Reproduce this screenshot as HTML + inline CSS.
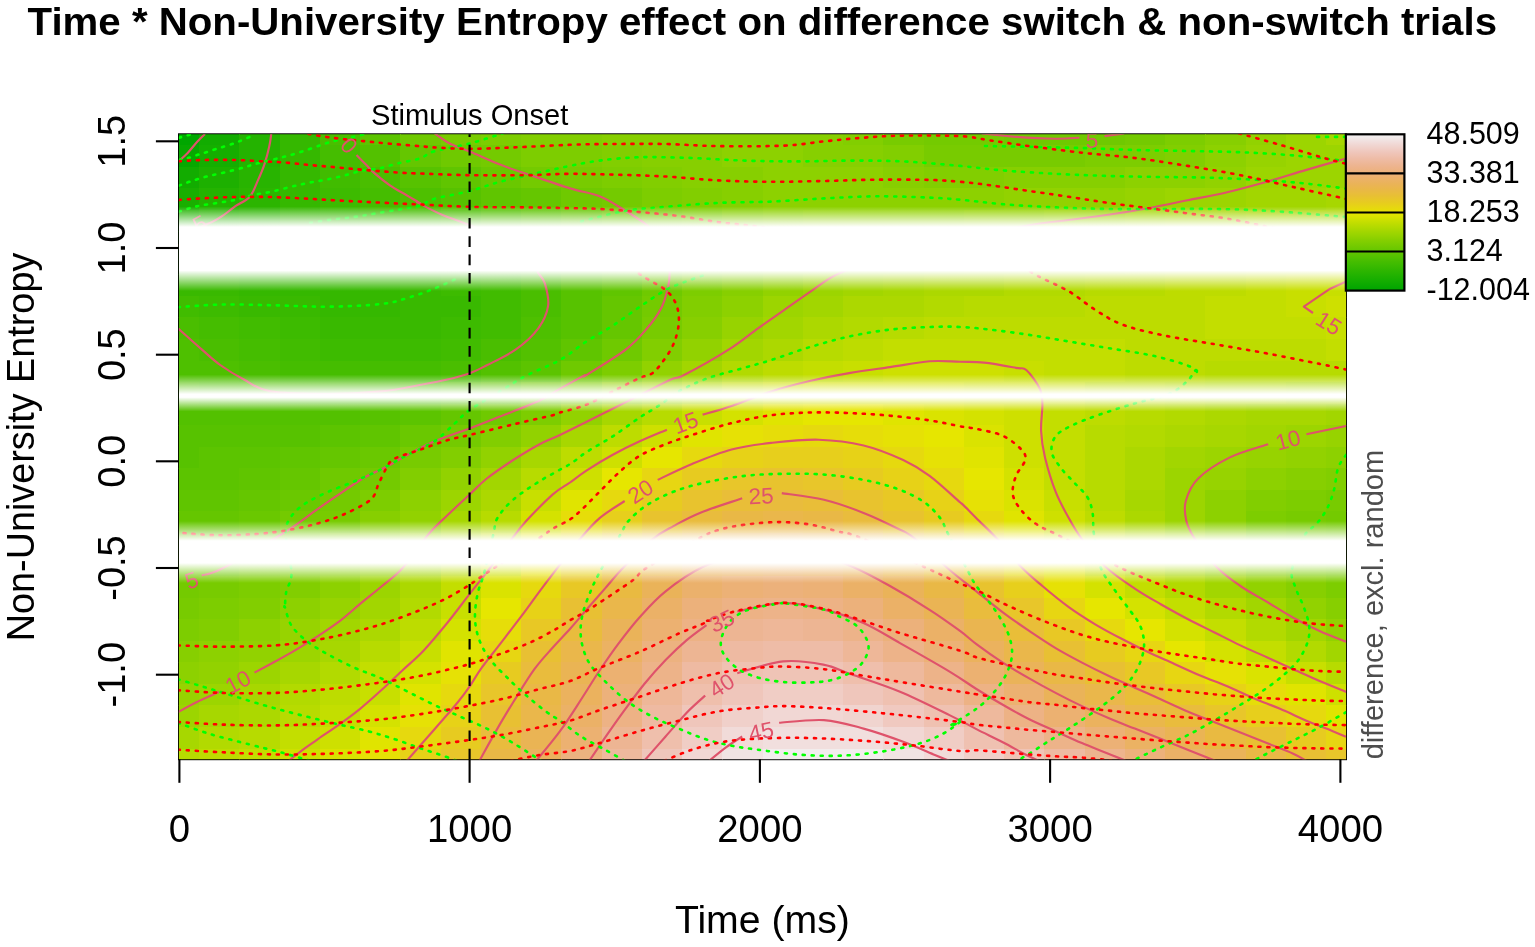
<!DOCTYPE html>
<html lang="en"><head><meta charset="utf-8"><title>Time * Non-University Entropy effect</title>
<style>html,body{margin:0;padding:0;background:#fff}body{width:1535px;height:947px;overflow:hidden}svg{display:block}text{font-family:"Liberation Sans",Arial,Helvetica,sans-serif;fill:#000}</style></head><body>
<svg width="1535" height="947" viewBox="0 0 1535 947">
<defs>
<clipPath id="pc"><rect x="178.9" y="134.2" width="1167.1999999999998" height="625.0999999999999"/></clipPath>
<linearGradient id="b1" x1="0" y1="0" x2="0" y2="1"><stop offset="0.0000" stop-color="#fff" stop-opacity="0.000"/><stop offset="0.0404" stop-color="#fff" stop-opacity="0.167"/><stop offset="0.0809" stop-color="#fff" stop-opacity="0.333"/><stop offset="0.1213" stop-color="#fff" stop-opacity="0.500"/><stop offset="0.1617" stop-color="#fff" stop-opacity="0.667"/><stop offset="0.2022" stop-color="#fff" stop-opacity="0.833"/><stop offset="0.2426" stop-color="#fff" stop-opacity="1.000"/><stop offset="0.7574" stop-color="#fff" stop-opacity="1.000"/><stop offset="0.7978" stop-color="#fff" stop-opacity="0.833"/><stop offset="0.8383" stop-color="#fff" stop-opacity="0.667"/><stop offset="0.8787" stop-color="#fff" stop-opacity="0.500"/><stop offset="0.9191" stop-color="#fff" stop-opacity="0.333"/><stop offset="0.9596" stop-color="#fff" stop-opacity="0.167"/><stop offset="1.0000" stop-color="#fff" stop-opacity="0.000"/></linearGradient>
<linearGradient id="b2" x1="0" y1="0" x2="0" y2="1"><stop offset="0.0000" stop-color="#fff" stop-opacity="0.000"/><stop offset="0.0887" stop-color="#fff" stop-opacity="0.167"/><stop offset="0.1775" stop-color="#fff" stop-opacity="0.333"/><stop offset="0.2662" stop-color="#fff" stop-opacity="0.500"/><stop offset="0.3550" stop-color="#fff" stop-opacity="0.667"/><stop offset="0.4437" stop-color="#fff" stop-opacity="0.833"/><stop offset="0.5324" stop-color="#fff" stop-opacity="1.000"/><stop offset="0.6162" stop-color="#fff" stop-opacity="1.000"/><stop offset="0.6802" stop-color="#fff" stop-opacity="0.833"/><stop offset="0.7441" stop-color="#fff" stop-opacity="0.667"/><stop offset="0.8081" stop-color="#fff" stop-opacity="0.500"/><stop offset="0.8721" stop-color="#fff" stop-opacity="0.333"/><stop offset="0.9360" stop-color="#fff" stop-opacity="0.167"/><stop offset="1.0000" stop-color="#fff" stop-opacity="0.000"/></linearGradient>
<linearGradient id="b3" x1="0" y1="0" x2="0" y2="1"><stop offset="0.0000" stop-color="#fff" stop-opacity="0.000"/><stop offset="0.0532" stop-color="#fff" stop-opacity="0.167"/><stop offset="0.1065" stop-color="#fff" stop-opacity="0.333"/><stop offset="0.1597" stop-color="#fff" stop-opacity="0.500"/><stop offset="0.2129" stop-color="#fff" stop-opacity="0.667"/><stop offset="0.2661" stop-color="#fff" stop-opacity="0.833"/><stop offset="0.3194" stop-color="#fff" stop-opacity="1.000"/><stop offset="0.6774" stop-color="#fff" stop-opacity="1.000"/><stop offset="0.7312" stop-color="#fff" stop-opacity="0.833"/><stop offset="0.7849" stop-color="#fff" stop-opacity="0.667"/><stop offset="0.8387" stop-color="#fff" stop-opacity="0.500"/><stop offset="0.8925" stop-color="#fff" stop-opacity="0.333"/><stop offset="0.9462" stop-color="#fff" stop-opacity="0.167"/><stop offset="1.0000" stop-color="#fff" stop-opacity="0.000"/></linearGradient>
<linearGradient id="lg" x1="0" y1="1" x2="0" y2="0"><stop offset="0.005" stop-color="#00a600"/><stop offset="0.025" stop-color="#07a800"/><stop offset="0.045" stop-color="#0eab00"/><stop offset="0.065" stop-color="#15ae00"/><stop offset="0.085" stop-color="#1db000"/><stop offset="0.105" stop-color="#24b300"/><stop offset="0.125" stop-color="#2cb500"/><stop offset="0.145" stop-color="#35b800"/><stop offset="0.165" stop-color="#3dbb00"/><stop offset="0.185" stop-color="#45bd00"/><stop offset="0.205" stop-color="#4ec000"/><stop offset="0.225" stop-color="#57c200"/><stop offset="0.245" stop-color="#60c500"/><stop offset="0.265" stop-color="#6ac800"/><stop offset="0.285" stop-color="#74ca00"/><stop offset="0.305" stop-color="#7dcd00"/><stop offset="0.325" stop-color="#87cf00"/><stop offset="0.345" stop-color="#92d200"/><stop offset="0.365" stop-color="#9cd500"/><stop offset="0.385" stop-color="#a7d700"/><stop offset="0.405" stop-color="#b2da00"/><stop offset="0.425" stop-color="#bddc00"/><stop offset="0.445" stop-color="#c8df00"/><stop offset="0.465" stop-color="#d4e200"/><stop offset="0.485" stop-color="#e0e400"/><stop offset="0.505" stop-color="#e6e105"/><stop offset="0.525" stop-color="#e6d90e"/><stop offset="0.545" stop-color="#e7d217"/><stop offset="0.565" stop-color="#e7cb20"/><stop offset="0.585" stop-color="#e8c62a"/><stop offset="0.605" stop-color="#e8c033"/><stop offset="0.625" stop-color="#e9bc3d"/><stop offset="0.645" stop-color="#e9b846"/><stop offset="0.665" stop-color="#eab550"/><stop offset="0.685" stop-color="#eab359"/><stop offset="0.705" stop-color="#ebb263"/><stop offset="0.725" stop-color="#ebb16c"/><stop offset="0.745" stop-color="#ecb176"/><stop offset="0.765" stop-color="#ecb280"/><stop offset="0.785" stop-color="#edb389"/><stop offset="0.805" stop-color="#edb593"/><stop offset="0.825" stop-color="#eeb99d"/><stop offset="0.845" stop-color="#eebca7"/><stop offset="0.865" stop-color="#efc1b1"/><stop offset="0.885" stop-color="#efc6bb"/><stop offset="0.905" stop-color="#f0cdc5"/><stop offset="0.925" stop-color="#f0d4cf"/><stop offset="0.945" stop-color="#f1dbd9"/><stop offset="0.965" stop-color="#f1e4e3"/><stop offset="0.985" stop-color="#f2eded"/></linearGradient>
</defs>
<rect x="178.9" y="134.2" width="1167.1999999999998" height="625.0999999999999" fill="none" stroke="#000" stroke-width="1.8"/>
<g clip-path="url(#pc)" shape-rendering="crispEdges">
<rect x="177.9" y="133.2" width="21.4" height="12.1" fill="#00a600"/>
<rect x="199" y="133.2" width="40.5" height="12.1" fill="#12ac00"/>
<rect x="239.3" y="133.2" width="40.5" height="12.1" fill="#24b300"/>
<rect x="279.5" y="133.2" width="40.5" height="12.1" fill="#35b800"/>
<rect x="319.8" y="133.2" width="40.5" height="12.1" fill="#4abe00"/>
<rect x="360" y="133.2" width="40.5" height="12.1" fill="#5cc400"/>
<rect x="400.3" y="133.2" width="40.5" height="12.1" fill="#6fc900"/>
<rect x="440.5" y="133.2" width="40.5" height="12.1" fill="#78cb00"/>
<rect x="480.8" y="133.2" width="40.5" height="12.1" fill="#7dcd00"/>
<rect x="521" y="133.2" width="80.8" height="12.1" fill="#82ce00"/>
<rect x="601.5" y="133.2" width="241.8" height="12.1" fill="#87cf00"/>
<rect x="843" y="133.2" width="40.5" height="12.1" fill="#82ce00"/>
<rect x="883.2" y="133.2" width="40.5" height="12.1" fill="#78cb00"/>
<rect x="923.5" y="133.2" width="80.8" height="12.1" fill="#74ca00"/>
<rect x="1004" y="133.2" width="121" height="12.1" fill="#6fc900"/>
<rect x="1124.7" y="133.2" width="40.5" height="12.1" fill="#74ca00"/>
<rect x="1165" y="133.2" width="40.5" height="12.1" fill="#7dcd00"/>
<rect x="1205.2" y="133.2" width="40.5" height="12.1" fill="#87cf00"/>
<rect x="1245.5" y="133.2" width="40.5" height="12.1" fill="#92d200"/>
<rect x="1285.7" y="133.2" width="40.5" height="12.1" fill="#9cd500"/>
<rect x="1326" y="133.2" width="21.4" height="12.1" fill="#a7d700"/>
<rect x="177.9" y="145" width="21.4" height="21.9" fill="#07a800"/>
<rect x="199" y="145" width="40.5" height="21.9" fill="#15ae00"/>
<rect x="239.3" y="145" width="40.5" height="21.9" fill="#24b300"/>
<rect x="279.5" y="145" width="40.5" height="21.9" fill="#35b800"/>
<rect x="319.8" y="145" width="40.5" height="21.9" fill="#45bd00"/>
<rect x="360" y="145" width="40.5" height="21.9" fill="#53c100"/>
<rect x="400.3" y="145" width="40.5" height="21.9" fill="#65c600"/>
<rect x="440.5" y="145" width="40.5" height="21.9" fill="#6fc900"/>
<rect x="480.8" y="145" width="40.5" height="21.9" fill="#74ca00"/>
<rect x="521" y="145" width="80.8" height="21.9" fill="#7dcd00"/>
<rect x="601.5" y="145" width="40.5" height="21.9" fill="#82ce00"/>
<rect x="641.8" y="145" width="80.8" height="21.9" fill="#87cf00"/>
<rect x="722.3" y="145" width="80.8" height="21.9" fill="#8dd100"/>
<rect x="802.7" y="145" width="80.8" height="21.9" fill="#87cf00"/>
<rect x="883.2" y="145" width="40.5" height="21.9" fill="#82ce00"/>
<rect x="923.5" y="145" width="161.3" height="21.9" fill="#78cb00"/>
<rect x="1084.5" y="145" width="80.8" height="21.9" fill="#7dcd00"/>
<rect x="1165" y="145" width="40.5" height="21.9" fill="#82ce00"/>
<rect x="1205.2" y="145" width="40.5" height="21.9" fill="#8dd100"/>
<rect x="1245.5" y="145" width="40.5" height="21.9" fill="#97d300"/>
<rect x="1285.7" y="145" width="61.7" height="21.9" fill="#9cd500"/>
<rect x="177.9" y="166.5" width="21.4" height="21.9" fill="#12ac00"/>
<rect x="199" y="166.5" width="40.5" height="21.9" fill="#1db000"/>
<rect x="239.3" y="166.5" width="40.5" height="21.9" fill="#28b400"/>
<rect x="279.5" y="166.5" width="40.5" height="21.9" fill="#35b800"/>
<rect x="319.8" y="166.5" width="40.5" height="21.9" fill="#41bc00"/>
<rect x="360" y="166.5" width="40.5" height="21.9" fill="#4abe00"/>
<rect x="400.3" y="166.5" width="40.5" height="21.9" fill="#57c200"/>
<rect x="440.5" y="166.5" width="40.5" height="21.9" fill="#60c500"/>
<rect x="480.8" y="166.5" width="40.5" height="21.9" fill="#6ac800"/>
<rect x="521" y="166.5" width="40.5" height="21.9" fill="#74ca00"/>
<rect x="561.3" y="166.5" width="40.5" height="21.9" fill="#78cb00"/>
<rect x="601.5" y="166.5" width="40.5" height="21.9" fill="#7dcd00"/>
<rect x="641.8" y="166.5" width="40.5" height="21.9" fill="#82ce00"/>
<rect x="682" y="166.5" width="80.8" height="21.9" fill="#87cf00"/>
<rect x="762.5" y="166.5" width="121" height="21.9" fill="#8dd100"/>
<rect x="883.2" y="166.5" width="40.5" height="21.9" fill="#87cf00"/>
<rect x="923.5" y="166.5" width="80.8" height="21.9" fill="#82ce00"/>
<rect x="1004" y="166.5" width="121" height="21.9" fill="#87cf00"/>
<rect x="1124.7" y="166.5" width="80.8" height="21.9" fill="#8dd100"/>
<rect x="1205.2" y="166.5" width="40.5" height="21.9" fill="#92d200"/>
<rect x="1245.5" y="166.5" width="101.9" height="21.9" fill="#9cd500"/>
<rect x="177.9" y="188.1" width="21.4" height="21.9" fill="#19af00"/>
<rect x="199" y="188.1" width="40.5" height="21.9" fill="#24b300"/>
<rect x="239.3" y="188.1" width="40.5" height="21.9" fill="#2cb500"/>
<rect x="279.5" y="188.1" width="40.5" height="21.9" fill="#35b800"/>
<rect x="319.8" y="188.1" width="40.5" height="21.9" fill="#3dbb00"/>
<rect x="360" y="188.1" width="40.5" height="21.9" fill="#45bd00"/>
<rect x="400.3" y="188.1" width="40.5" height="21.9" fill="#4ec000"/>
<rect x="440.5" y="188.1" width="40.5" height="21.9" fill="#57c200"/>
<rect x="480.8" y="188.1" width="40.5" height="21.9" fill="#60c500"/>
<rect x="521" y="188.1" width="40.5" height="21.9" fill="#65c600"/>
<rect x="561.3" y="188.1" width="40.5" height="21.9" fill="#6fc900"/>
<rect x="601.5" y="188.1" width="40.5" height="21.9" fill="#74ca00"/>
<rect x="641.8" y="188.1" width="40.5" height="21.9" fill="#7dcd00"/>
<rect x="682" y="188.1" width="40.5" height="21.9" fill="#82ce00"/>
<rect x="722.3" y="188.1" width="40.5" height="21.9" fill="#87cf00"/>
<rect x="762.5" y="188.1" width="241.8" height="21.9" fill="#8dd100"/>
<rect x="1004" y="188.1" width="121" height="21.9" fill="#92d200"/>
<rect x="1124.7" y="188.1" width="40.5" height="21.9" fill="#97d300"/>
<rect x="1165" y="188.1" width="80.8" height="21.9" fill="#9cd500"/>
<rect x="1245.5" y="188.1" width="80.8" height="21.9" fill="#a2d600"/>
<rect x="1326" y="188.1" width="21.4" height="21.9" fill="#a7d700"/>
<rect x="177.9" y="209.6" width="21.4" height="21.9" fill="#21b100"/>
<rect x="199" y="209.6" width="40.5" height="21.9" fill="#28b400"/>
<rect x="239.3" y="209.6" width="40.5" height="21.9" fill="#2cb500"/>
<rect x="279.5" y="209.6" width="40.5" height="21.9" fill="#35b800"/>
<rect x="319.8" y="209.6" width="40.5" height="21.9" fill="#39b900"/>
<rect x="360" y="209.6" width="40.5" height="21.9" fill="#3dbb00"/>
<rect x="400.3" y="209.6" width="40.5" height="21.9" fill="#45bd00"/>
<rect x="440.5" y="209.6" width="40.5" height="21.9" fill="#4abe00"/>
<rect x="480.8" y="209.6" width="40.5" height="21.9" fill="#53c100"/>
<rect x="521" y="209.6" width="40.5" height="21.9" fill="#5cc400"/>
<rect x="561.3" y="209.6" width="40.5" height="21.9" fill="#65c600"/>
<rect x="601.5" y="209.6" width="40.5" height="21.9" fill="#6fc900"/>
<rect x="641.8" y="209.6" width="40.5" height="21.9" fill="#78cb00"/>
<rect x="682" y="209.6" width="40.5" height="21.9" fill="#7dcd00"/>
<rect x="722.3" y="209.6" width="40.5" height="21.9" fill="#87cf00"/>
<rect x="762.5" y="209.6" width="40.5" height="21.9" fill="#8dd100"/>
<rect x="802.7" y="209.6" width="161.3" height="21.9" fill="#92d200"/>
<rect x="963.7" y="209.6" width="80.8" height="21.9" fill="#97d300"/>
<rect x="1044.2" y="209.6" width="80.8" height="21.9" fill="#9cd500"/>
<rect x="1124.7" y="209.6" width="40.5" height="21.9" fill="#a2d600"/>
<rect x="1165" y="209.6" width="80.8" height="21.9" fill="#a7d700"/>
<rect x="1245.5" y="209.6" width="101.9" height="21.9" fill="#acd800"/>
<rect x="177.9" y="231.2" width="21.4" height="21.9" fill="#28b400"/>
<rect x="199" y="231.2" width="40.5" height="21.9" fill="#2cb500"/>
<rect x="239.3" y="231.2" width="40.5" height="21.9" fill="#30b700"/>
<rect x="279.5" y="231.2" width="80.8" height="21.9" fill="#35b800"/>
<rect x="360" y="231.2" width="40.5" height="21.9" fill="#39b900"/>
<rect x="400.3" y="231.2" width="40.5" height="21.9" fill="#3dbb00"/>
<rect x="440.5" y="231.2" width="40.5" height="21.9" fill="#45bd00"/>
<rect x="480.8" y="231.2" width="40.5" height="21.9" fill="#4abe00"/>
<rect x="521" y="231.2" width="40.5" height="21.9" fill="#53c100"/>
<rect x="561.3" y="231.2" width="40.5" height="21.9" fill="#5cc400"/>
<rect x="601.5" y="231.2" width="40.5" height="21.9" fill="#65c600"/>
<rect x="641.8" y="231.2" width="40.5" height="21.9" fill="#74ca00"/>
<rect x="682" y="231.2" width="40.5" height="21.9" fill="#7dcd00"/>
<rect x="722.3" y="231.2" width="40.5" height="21.9" fill="#87cf00"/>
<rect x="762.5" y="231.2" width="40.5" height="21.9" fill="#8dd100"/>
<rect x="802.7" y="231.2" width="40.5" height="21.9" fill="#92d200"/>
<rect x="843" y="231.2" width="80.8" height="21.9" fill="#97d300"/>
<rect x="923.5" y="231.2" width="80.8" height="21.9" fill="#9cd500"/>
<rect x="1004" y="231.2" width="80.8" height="21.9" fill="#a2d600"/>
<rect x="1084.5" y="231.2" width="40.5" height="21.9" fill="#a7d700"/>
<rect x="1124.7" y="231.2" width="80.8" height="21.9" fill="#acd800"/>
<rect x="1205.2" y="231.2" width="80.8" height="21.9" fill="#b2da00"/>
<rect x="1285.7" y="231.2" width="61.7" height="21.9" fill="#b7db00"/>
<rect x="177.9" y="252.8" width="101.9" height="21.9" fill="#30b700"/>
<rect x="279.5" y="252.8" width="80.8" height="21.9" fill="#35b800"/>
<rect x="360" y="252.8" width="80.8" height="21.9" fill="#39b900"/>
<rect x="440.5" y="252.8" width="40.5" height="21.9" fill="#3dbb00"/>
<rect x="480.8" y="252.8" width="40.5" height="21.9" fill="#45bd00"/>
<rect x="521" y="252.8" width="40.5" height="21.9" fill="#4ec000"/>
<rect x="561.3" y="252.8" width="40.5" height="21.9" fill="#57c200"/>
<rect x="601.5" y="252.8" width="40.5" height="21.9" fill="#65c600"/>
<rect x="641.8" y="252.8" width="40.5" height="21.9" fill="#6fc900"/>
<rect x="682" y="252.8" width="40.5" height="21.9" fill="#7dcd00"/>
<rect x="722.3" y="252.8" width="40.5" height="21.9" fill="#87cf00"/>
<rect x="762.5" y="252.8" width="40.5" height="21.9" fill="#92d200"/>
<rect x="802.7" y="252.8" width="40.5" height="21.9" fill="#97d300"/>
<rect x="843" y="252.8" width="80.8" height="21.9" fill="#9cd500"/>
<rect x="923.5" y="252.8" width="40.5" height="21.9" fill="#a2d600"/>
<rect x="963.7" y="252.8" width="80.8" height="21.9" fill="#a7d700"/>
<rect x="1044.2" y="252.8" width="80.8" height="21.9" fill="#acd800"/>
<rect x="1124.7" y="252.8" width="40.5" height="21.9" fill="#b2da00"/>
<rect x="1165" y="252.8" width="80.8" height="21.9" fill="#b7db00"/>
<rect x="1245.5" y="252.8" width="80.8" height="21.9" fill="#bddc00"/>
<rect x="1326" y="252.8" width="21.4" height="21.9" fill="#c3de00"/>
<rect x="177.9" y="274.3" width="61.7" height="21.9" fill="#39b900"/>
<rect x="239.3" y="274.3" width="161.3" height="21.9" fill="#35b800"/>
<rect x="400.3" y="274.3" width="40.5" height="21.9" fill="#39b900"/>
<rect x="440.5" y="274.3" width="40.5" height="21.9" fill="#3dbb00"/>
<rect x="480.8" y="274.3" width="40.5" height="21.9" fill="#41bc00"/>
<rect x="521" y="274.3" width="40.5" height="21.9" fill="#4abe00"/>
<rect x="561.3" y="274.3" width="40.5" height="21.9" fill="#57c200"/>
<rect x="601.5" y="274.3" width="40.5" height="21.9" fill="#60c500"/>
<rect x="641.8" y="274.3" width="40.5" height="21.9" fill="#6fc900"/>
<rect x="682" y="274.3" width="40.5" height="21.9" fill="#7dcd00"/>
<rect x="722.3" y="274.3" width="40.5" height="21.9" fill="#87cf00"/>
<rect x="762.5" y="274.3" width="40.5" height="21.9" fill="#92d200"/>
<rect x="802.7" y="274.3" width="40.5" height="21.9" fill="#9cd500"/>
<rect x="843" y="274.3" width="40.5" height="21.9" fill="#a2d600"/>
<rect x="883.2" y="274.3" width="40.5" height="21.9" fill="#a7d700"/>
<rect x="923.5" y="274.3" width="80.8" height="21.9" fill="#acd800"/>
<rect x="1004" y="274.3" width="80.8" height="21.9" fill="#b2da00"/>
<rect x="1084.5" y="274.3" width="80.8" height="21.9" fill="#b7db00"/>
<rect x="1165" y="274.3" width="80.8" height="21.9" fill="#bddc00"/>
<rect x="1245.5" y="274.3" width="40.5" height="21.9" fill="#c3de00"/>
<rect x="1285.7" y="274.3" width="61.7" height="21.9" fill="#c8df00"/>
<rect x="177.9" y="295.9" width="21.4" height="21.9" fill="#41bc00"/>
<rect x="199" y="295.9" width="40.5" height="21.9" fill="#3dbb00"/>
<rect x="239.3" y="295.9" width="80.8" height="21.9" fill="#39b900"/>
<rect x="319.8" y="295.9" width="80.8" height="21.9" fill="#35b800"/>
<rect x="400.3" y="295.9" width="80.8" height="21.9" fill="#39b900"/>
<rect x="480.8" y="295.9" width="40.5" height="21.9" fill="#41bc00"/>
<rect x="521" y="295.9" width="40.5" height="21.9" fill="#4abe00"/>
<rect x="561.3" y="295.9" width="40.5" height="21.9" fill="#57c200"/>
<rect x="601.5" y="295.9" width="40.5" height="21.9" fill="#65c600"/>
<rect x="641.8" y="295.9" width="40.5" height="21.9" fill="#74ca00"/>
<rect x="682" y="295.9" width="40.5" height="21.9" fill="#82ce00"/>
<rect x="722.3" y="295.9" width="40.5" height="21.9" fill="#8dd100"/>
<rect x="762.5" y="295.9" width="40.5" height="21.9" fill="#9cd500"/>
<rect x="802.7" y="295.9" width="40.5" height="21.9" fill="#a2d600"/>
<rect x="843" y="295.9" width="80.8" height="21.9" fill="#acd800"/>
<rect x="923.5" y="295.9" width="40.5" height="21.9" fill="#b2da00"/>
<rect x="963.7" y="295.9" width="121" height="21.9" fill="#b7db00"/>
<rect x="1084.5" y="295.9" width="121" height="21.9" fill="#bddc00"/>
<rect x="1205.2" y="295.9" width="80.8" height="21.9" fill="#c3de00"/>
<rect x="1285.7" y="295.9" width="40.5" height="21.9" fill="#c8df00"/>
<rect x="1326" y="295.9" width="21.4" height="21.9" fill="#cee000"/>
<rect x="177.9" y="317.4" width="21.4" height="21.9" fill="#4abe00"/>
<rect x="199" y="317.4" width="40.5" height="21.9" fill="#45bd00"/>
<rect x="239.3" y="317.4" width="40.5" height="21.9" fill="#41bc00"/>
<rect x="279.5" y="317.4" width="40.5" height="21.9" fill="#3dbb00"/>
<rect x="319.8" y="317.4" width="121" height="21.9" fill="#39b900"/>
<rect x="440.5" y="317.4" width="40.5" height="21.9" fill="#3dbb00"/>
<rect x="480.8" y="317.4" width="40.5" height="21.9" fill="#41bc00"/>
<rect x="521" y="317.4" width="40.5" height="21.9" fill="#4ec000"/>
<rect x="561.3" y="317.4" width="40.5" height="21.9" fill="#57c200"/>
<rect x="601.5" y="317.4" width="40.5" height="21.9" fill="#65c600"/>
<rect x="641.8" y="317.4" width="40.5" height="21.9" fill="#78cb00"/>
<rect x="682" y="317.4" width="40.5" height="21.9" fill="#87cf00"/>
<rect x="722.3" y="317.4" width="40.5" height="21.9" fill="#97d300"/>
<rect x="762.5" y="317.4" width="40.5" height="21.9" fill="#a2d600"/>
<rect x="802.7" y="317.4" width="40.5" height="21.9" fill="#acd800"/>
<rect x="843" y="317.4" width="40.5" height="21.9" fill="#b2da00"/>
<rect x="883.2" y="317.4" width="40.5" height="21.9" fill="#b7db00"/>
<rect x="923.5" y="317.4" width="282" height="21.9" fill="#bddc00"/>
<rect x="1205.2" y="317.4" width="121" height="21.9" fill="#c3de00"/>
<rect x="1326" y="317.4" width="21.4" height="21.9" fill="#c8df00"/>
<rect x="177.9" y="339" width="21.4" height="21.9" fill="#4ec000"/>
<rect x="199" y="339" width="40.5" height="21.9" fill="#4abe00"/>
<rect x="239.3" y="339" width="40.5" height="21.9" fill="#45bd00"/>
<rect x="279.5" y="339" width="40.5" height="21.9" fill="#41bc00"/>
<rect x="319.8" y="339" width="121" height="21.9" fill="#3dbb00"/>
<rect x="440.5" y="339" width="40.5" height="21.9" fill="#41bc00"/>
<rect x="480.8" y="339" width="40.5" height="21.9" fill="#4abe00"/>
<rect x="521" y="339" width="40.5" height="21.9" fill="#53c100"/>
<rect x="561.3" y="339" width="40.5" height="21.9" fill="#60c500"/>
<rect x="601.5" y="339" width="40.5" height="21.9" fill="#6fc900"/>
<rect x="641.8" y="339" width="40.5" height="21.9" fill="#82ce00"/>
<rect x="682" y="339" width="40.5" height="21.9" fill="#92d200"/>
<rect x="722.3" y="339" width="40.5" height="21.9" fill="#a2d600"/>
<rect x="762.5" y="339" width="40.5" height="21.9" fill="#acd800"/>
<rect x="802.7" y="339" width="40.5" height="21.9" fill="#b7db00"/>
<rect x="843" y="339" width="40.5" height="21.9" fill="#bddc00"/>
<rect x="883.2" y="339" width="241.8" height="21.9" fill="#c3de00"/>
<rect x="1124.7" y="339" width="201.5" height="21.9" fill="#bddc00"/>
<rect x="1326" y="339" width="21.4" height="21.9" fill="#c3de00"/>
<rect x="177.9" y="360.5" width="61.7" height="21.9" fill="#4ec000"/>
<rect x="239.3" y="360.5" width="40.5" height="21.9" fill="#4abe00"/>
<rect x="279.5" y="360.5" width="161.3" height="21.9" fill="#45bd00"/>
<rect x="440.5" y="360.5" width="40.5" height="21.9" fill="#4abe00"/>
<rect x="480.8" y="360.5" width="40.5" height="21.9" fill="#53c100"/>
<rect x="521" y="360.5" width="40.5" height="21.9" fill="#5cc400"/>
<rect x="561.3" y="360.5" width="40.5" height="21.9" fill="#6fc900"/>
<rect x="601.5" y="360.5" width="40.5" height="21.9" fill="#7dcd00"/>
<rect x="641.8" y="360.5" width="40.5" height="21.9" fill="#92d200"/>
<rect x="682" y="360.5" width="40.5" height="21.9" fill="#a2d600"/>
<rect x="722.3" y="360.5" width="40.5" height="21.9" fill="#b2da00"/>
<rect x="762.5" y="360.5" width="40.5" height="21.9" fill="#bddc00"/>
<rect x="802.7" y="360.5" width="40.5" height="21.9" fill="#c3de00"/>
<rect x="843" y="360.5" width="40.5" height="21.9" fill="#c8df00"/>
<rect x="883.2" y="360.5" width="121" height="21.9" fill="#cee000"/>
<rect x="1004" y="360.5" width="40.5" height="21.9" fill="#c8df00"/>
<rect x="1044.2" y="360.5" width="80.8" height="21.9" fill="#c3de00"/>
<rect x="1124.7" y="360.5" width="80.8" height="21.9" fill="#bddc00"/>
<rect x="1205.2" y="360.5" width="142.2" height="21.9" fill="#b7db00"/>
<rect x="177.9" y="382.1" width="21.4" height="21.9" fill="#53c100"/>
<rect x="199" y="382.1" width="80.8" height="21.9" fill="#4ec000"/>
<rect x="279.5" y="382.1" width="121" height="21.9" fill="#4abe00"/>
<rect x="400.3" y="382.1" width="40.5" height="21.9" fill="#4ec000"/>
<rect x="440.5" y="382.1" width="40.5" height="21.9" fill="#57c200"/>
<rect x="480.8" y="382.1" width="40.5" height="21.9" fill="#60c500"/>
<rect x="521" y="382.1" width="40.5" height="21.9" fill="#6fc900"/>
<rect x="561.3" y="382.1" width="40.5" height="21.9" fill="#7dcd00"/>
<rect x="601.5" y="382.1" width="40.5" height="21.9" fill="#92d200"/>
<rect x="641.8" y="382.1" width="40.5" height="21.9" fill="#a2d600"/>
<rect x="682" y="382.1" width="40.5" height="21.9" fill="#b2da00"/>
<rect x="722.3" y="382.1" width="40.5" height="21.9" fill="#c3de00"/>
<rect x="762.5" y="382.1" width="40.5" height="21.9" fill="#cee000"/>
<rect x="802.7" y="382.1" width="161.3" height="21.9" fill="#d4e200"/>
<rect x="963.7" y="382.1" width="80.8" height="21.9" fill="#cee000"/>
<rect x="1044.2" y="382.1" width="40.5" height="21.9" fill="#c8df00"/>
<rect x="1084.5" y="382.1" width="80.8" height="21.9" fill="#bddc00"/>
<rect x="1165" y="382.1" width="40.5" height="21.9" fill="#b7db00"/>
<rect x="1205.2" y="382.1" width="80.8" height="21.9" fill="#b2da00"/>
<rect x="1285.7" y="382.1" width="61.7" height="21.9" fill="#acd800"/>
<rect x="177.9" y="403.6" width="182.4" height="21.9" fill="#53c100"/>
<rect x="360" y="403.6" width="40.5" height="21.9" fill="#57c200"/>
<rect x="400.3" y="403.6" width="40.5" height="21.9" fill="#5cc400"/>
<rect x="440.5" y="403.6" width="40.5" height="21.9" fill="#65c600"/>
<rect x="480.8" y="403.6" width="40.5" height="21.9" fill="#6fc900"/>
<rect x="521" y="403.6" width="40.5" height="21.9" fill="#7dcd00"/>
<rect x="561.3" y="403.6" width="40.5" height="21.9" fill="#92d200"/>
<rect x="601.5" y="403.6" width="40.5" height="21.9" fill="#a7d700"/>
<rect x="641.8" y="403.6" width="40.5" height="21.9" fill="#b7db00"/>
<rect x="682" y="403.6" width="40.5" height="21.9" fill="#c8df00"/>
<rect x="722.3" y="403.6" width="40.5" height="21.9" fill="#d4e200"/>
<rect x="762.5" y="403.6" width="40.5" height="21.9" fill="#e0e400"/>
<rect x="802.7" y="403.6" width="80.8" height="21.9" fill="#e6e600"/>
<rect x="883.2" y="403.6" width="40.5" height="21.9" fill="#e0e400"/>
<rect x="923.5" y="403.6" width="40.5" height="21.9" fill="#dae300"/>
<rect x="963.7" y="403.6" width="40.5" height="21.9" fill="#d4e200"/>
<rect x="1004" y="403.6" width="40.5" height="21.9" fill="#cee000"/>
<rect x="1044.2" y="403.6" width="40.5" height="21.9" fill="#c3de00"/>
<rect x="1084.5" y="403.6" width="40.5" height="21.9" fill="#bddc00"/>
<rect x="1124.7" y="403.6" width="40.5" height="21.9" fill="#b7db00"/>
<rect x="1165" y="403.6" width="40.5" height="21.9" fill="#b2da00"/>
<rect x="1205.2" y="403.6" width="40.5" height="21.9" fill="#acd800"/>
<rect x="1245.5" y="403.6" width="80.8" height="21.9" fill="#a7d700"/>
<rect x="1326" y="403.6" width="21.4" height="21.9" fill="#a2d600"/>
<rect x="177.9" y="425.2" width="142.2" height="21.9" fill="#57c200"/>
<rect x="319.8" y="425.2" width="40.5" height="21.9" fill="#5cc400"/>
<rect x="360" y="425.2" width="40.5" height="21.9" fill="#60c500"/>
<rect x="400.3" y="425.2" width="40.5" height="21.9" fill="#6ac800"/>
<rect x="440.5" y="425.2" width="40.5" height="21.9" fill="#74ca00"/>
<rect x="480.8" y="425.2" width="40.5" height="21.9" fill="#82ce00"/>
<rect x="521" y="425.2" width="40.5" height="21.9" fill="#92d200"/>
<rect x="561.3" y="425.2" width="40.5" height="21.9" fill="#a7d700"/>
<rect x="601.5" y="425.2" width="40.5" height="21.9" fill="#bddc00"/>
<rect x="641.8" y="425.2" width="40.5" height="21.9" fill="#cee000"/>
<rect x="682" y="425.2" width="40.5" height="21.9" fill="#e0e400"/>
<rect x="722.3" y="425.2" width="40.5" height="21.9" fill="#e6e105"/>
<rect x="762.5" y="425.2" width="40.5" height="21.9" fill="#e6dd09"/>
<rect x="802.7" y="425.2" width="40.5" height="21.9" fill="#e6d90e"/>
<rect x="843" y="425.2" width="40.5" height="21.9" fill="#e6dd09"/>
<rect x="883.2" y="425.2" width="40.5" height="21.9" fill="#e6e105"/>
<rect x="923.5" y="425.2" width="40.5" height="21.9" fill="#e6e600"/>
<rect x="963.7" y="425.2" width="40.5" height="21.9" fill="#dae300"/>
<rect x="1004" y="425.2" width="40.5" height="21.9" fill="#cee000"/>
<rect x="1044.2" y="425.2" width="40.5" height="21.9" fill="#c3de00"/>
<rect x="1084.5" y="425.2" width="40.5" height="21.9" fill="#b7db00"/>
<rect x="1124.7" y="425.2" width="40.5" height="21.9" fill="#b2da00"/>
<rect x="1165" y="425.2" width="40.5" height="21.9" fill="#acd800"/>
<rect x="1205.2" y="425.2" width="40.5" height="21.9" fill="#a7d700"/>
<rect x="1245.5" y="425.2" width="40.5" height="21.9" fill="#a2d600"/>
<rect x="1285.7" y="425.2" width="40.5" height="21.9" fill="#9cd500"/>
<rect x="1326" y="425.2" width="21.4" height="21.9" fill="#97d300"/>
<rect x="177.9" y="446.7" width="21.4" height="21.9" fill="#57c200"/>
<rect x="199" y="446.7" width="80.8" height="21.9" fill="#5cc400"/>
<rect x="279.5" y="446.7" width="40.5" height="21.9" fill="#60c500"/>
<rect x="319.8" y="446.7" width="40.5" height="21.9" fill="#65c600"/>
<rect x="360" y="446.7" width="40.5" height="21.9" fill="#6ac800"/>
<rect x="400.3" y="446.7" width="40.5" height="21.9" fill="#78cb00"/>
<rect x="440.5" y="446.7" width="40.5" height="21.9" fill="#82ce00"/>
<rect x="480.8" y="446.7" width="40.5" height="21.9" fill="#92d200"/>
<rect x="521" y="446.7" width="40.5" height="21.9" fill="#a7d700"/>
<rect x="561.3" y="446.7" width="40.5" height="21.9" fill="#bddc00"/>
<rect x="601.5" y="446.7" width="40.5" height="21.9" fill="#cee000"/>
<rect x="641.8" y="446.7" width="40.5" height="21.9" fill="#e6e600"/>
<rect x="682" y="446.7" width="40.5" height="21.9" fill="#e6d90e"/>
<rect x="722.3" y="446.7" width="40.5" height="21.9" fill="#e7d217"/>
<rect x="762.5" y="446.7" width="80.8" height="21.9" fill="#e7cf1c"/>
<rect x="843" y="446.7" width="40.5" height="21.9" fill="#e7d217"/>
<rect x="883.2" y="446.7" width="40.5" height="21.9" fill="#e6d90e"/>
<rect x="923.5" y="446.7" width="40.5" height="21.9" fill="#e6e105"/>
<rect x="963.7" y="446.7" width="40.5" height="21.9" fill="#e0e400"/>
<rect x="1004" y="446.7" width="40.5" height="21.9" fill="#cee000"/>
<rect x="1044.2" y="446.7" width="40.5" height="21.9" fill="#c3de00"/>
<rect x="1084.5" y="446.7" width="40.5" height="21.9" fill="#b7db00"/>
<rect x="1124.7" y="446.7" width="40.5" height="21.9" fill="#acd800"/>
<rect x="1165" y="446.7" width="40.5" height="21.9" fill="#a2d600"/>
<rect x="1205.2" y="446.7" width="40.5" height="21.9" fill="#9cd500"/>
<rect x="1245.5" y="446.7" width="40.5" height="21.9" fill="#97d300"/>
<rect x="1285.7" y="446.7" width="40.5" height="21.9" fill="#92d200"/>
<rect x="1326" y="446.7" width="21.4" height="21.9" fill="#8dd100"/>
<rect x="177.9" y="468.3" width="61.7" height="21.9" fill="#5cc400"/>
<rect x="239.3" y="468.3" width="40.5" height="21.9" fill="#60c500"/>
<rect x="279.5" y="468.3" width="40.5" height="21.9" fill="#65c600"/>
<rect x="319.8" y="468.3" width="40.5" height="21.9" fill="#6fc900"/>
<rect x="360" y="468.3" width="40.5" height="21.9" fill="#74ca00"/>
<rect x="400.3" y="468.3" width="40.5" height="21.9" fill="#82ce00"/>
<rect x="440.5" y="468.3" width="40.5" height="21.9" fill="#92d200"/>
<rect x="480.8" y="468.3" width="40.5" height="21.9" fill="#a2d600"/>
<rect x="521" y="468.3" width="40.5" height="21.9" fill="#b7db00"/>
<rect x="561.3" y="468.3" width="40.5" height="21.9" fill="#cee000"/>
<rect x="601.5" y="468.3" width="40.5" height="21.9" fill="#e6e600"/>
<rect x="641.8" y="468.3" width="40.5" height="21.9" fill="#e7d612"/>
<rect x="682" y="468.3" width="40.5" height="21.9" fill="#e7cb20"/>
<rect x="722.3" y="468.3" width="40.5" height="21.9" fill="#e8c62a"/>
<rect x="762.5" y="468.3" width="40.5" height="21.9" fill="#e8c32e"/>
<rect x="802.7" y="468.3" width="40.5" height="21.9" fill="#e8c62a"/>
<rect x="843" y="468.3" width="40.5" height="21.9" fill="#e7cb20"/>
<rect x="883.2" y="468.3" width="40.5" height="21.9" fill="#e7d217"/>
<rect x="923.5" y="468.3" width="40.5" height="21.9" fill="#e6d90e"/>
<rect x="963.7" y="468.3" width="40.5" height="21.9" fill="#e6e600"/>
<rect x="1004" y="468.3" width="40.5" height="21.9" fill="#d4e200"/>
<rect x="1044.2" y="468.3" width="40.5" height="21.9" fill="#c3de00"/>
<rect x="1084.5" y="468.3" width="40.5" height="21.9" fill="#b7db00"/>
<rect x="1124.7" y="468.3" width="40.5" height="21.9" fill="#acd800"/>
<rect x="1165" y="468.3" width="40.5" height="21.9" fill="#9cd500"/>
<rect x="1205.2" y="468.3" width="40.5" height="21.9" fill="#97d300"/>
<rect x="1245.5" y="468.3" width="40.5" height="21.9" fill="#8dd100"/>
<rect x="1285.7" y="468.3" width="40.5" height="21.9" fill="#87cf00"/>
<rect x="1326" y="468.3" width="21.4" height="21.9" fill="#82ce00"/>
<rect x="177.9" y="489.9" width="61.7" height="21.9" fill="#60c500"/>
<rect x="239.3" y="489.9" width="40.5" height="21.9" fill="#65c600"/>
<rect x="279.5" y="489.9" width="40.5" height="21.9" fill="#6ac800"/>
<rect x="319.8" y="489.9" width="40.5" height="21.9" fill="#74ca00"/>
<rect x="360" y="489.9" width="40.5" height="21.9" fill="#7dcd00"/>
<rect x="400.3" y="489.9" width="40.5" height="21.9" fill="#8dd100"/>
<rect x="440.5" y="489.9" width="40.5" height="21.9" fill="#9cd500"/>
<rect x="480.8" y="489.9" width="40.5" height="21.9" fill="#acd800"/>
<rect x="521" y="489.9" width="40.5" height="21.9" fill="#c8df00"/>
<rect x="561.3" y="489.9" width="40.5" height="21.9" fill="#e0e400"/>
<rect x="601.5" y="489.9" width="40.5" height="21.9" fill="#e6d90e"/>
<rect x="641.8" y="489.9" width="40.5" height="21.9" fill="#e7cb20"/>
<rect x="682" y="489.9" width="40.5" height="21.9" fill="#e8c32e"/>
<rect x="722.3" y="489.9" width="40.5" height="21.9" fill="#e9be38"/>
<rect x="762.5" y="489.9" width="40.5" height="21.9" fill="#e9bc3d"/>
<rect x="802.7" y="489.9" width="40.5" height="21.9" fill="#e9be38"/>
<rect x="843" y="489.9" width="40.5" height="21.9" fill="#e8c32e"/>
<rect x="883.2" y="489.9" width="40.5" height="21.9" fill="#e8c825"/>
<rect x="923.5" y="489.9" width="40.5" height="21.9" fill="#e7d217"/>
<rect x="963.7" y="489.9" width="40.5" height="21.9" fill="#e6e105"/>
<rect x="1004" y="489.9" width="40.5" height="21.9" fill="#dae300"/>
<rect x="1044.2" y="489.9" width="40.5" height="21.9" fill="#c8df00"/>
<rect x="1084.5" y="489.9" width="40.5" height="21.9" fill="#b7db00"/>
<rect x="1124.7" y="489.9" width="40.5" height="21.9" fill="#a7d700"/>
<rect x="1165" y="489.9" width="40.5" height="21.9" fill="#9cd500"/>
<rect x="1205.2" y="489.9" width="40.5" height="21.9" fill="#8dd100"/>
<rect x="1245.5" y="489.9" width="40.5" height="21.9" fill="#82ce00"/>
<rect x="1285.7" y="489.9" width="40.5" height="21.9" fill="#7dcd00"/>
<rect x="1326" y="489.9" width="21.4" height="21.9" fill="#78cb00"/>
<rect x="177.9" y="511.4" width="61.7" height="21.9" fill="#65c600"/>
<rect x="239.3" y="511.4" width="40.5" height="21.9" fill="#6ac800"/>
<rect x="279.5" y="511.4" width="40.5" height="21.9" fill="#74ca00"/>
<rect x="319.8" y="511.4" width="40.5" height="21.9" fill="#78cb00"/>
<rect x="360" y="511.4" width="40.5" height="21.9" fill="#87cf00"/>
<rect x="400.3" y="511.4" width="40.5" height="21.9" fill="#92d200"/>
<rect x="440.5" y="511.4" width="40.5" height="21.9" fill="#a7d700"/>
<rect x="480.8" y="511.4" width="40.5" height="21.9" fill="#b7db00"/>
<rect x="521" y="511.4" width="40.5" height="21.9" fill="#d4e200"/>
<rect x="561.3" y="511.4" width="40.5" height="21.9" fill="#e6dd09"/>
<rect x="601.5" y="511.4" width="40.5" height="21.9" fill="#e7cf1c"/>
<rect x="641.8" y="511.4" width="40.5" height="21.9" fill="#e8c32e"/>
<rect x="682" y="511.4" width="40.5" height="21.9" fill="#e9bc3d"/>
<rect x="722.3" y="511.4" width="40.5" height="21.9" fill="#e9b846"/>
<rect x="762.5" y="511.4" width="40.5" height="21.9" fill="#eab74b"/>
<rect x="802.7" y="511.4" width="40.5" height="21.9" fill="#e9b846"/>
<rect x="843" y="511.4" width="40.5" height="21.9" fill="#e9bc3d"/>
<rect x="883.2" y="511.4" width="40.5" height="21.9" fill="#e8c32e"/>
<rect x="923.5" y="511.4" width="40.5" height="21.9" fill="#e7cb20"/>
<rect x="963.7" y="511.4" width="40.5" height="21.9" fill="#e6d90e"/>
<rect x="1004" y="511.4" width="40.5" height="21.9" fill="#e0e400"/>
<rect x="1044.2" y="511.4" width="40.5" height="21.9" fill="#cee000"/>
<rect x="1084.5" y="511.4" width="40.5" height="21.9" fill="#bddc00"/>
<rect x="1124.7" y="511.4" width="40.5" height="21.9" fill="#acd800"/>
<rect x="1165" y="511.4" width="40.5" height="21.9" fill="#9cd500"/>
<rect x="1205.2" y="511.4" width="40.5" height="21.9" fill="#8dd100"/>
<rect x="1245.5" y="511.4" width="40.5" height="21.9" fill="#7dcd00"/>
<rect x="1285.7" y="511.4" width="40.5" height="21.9" fill="#78cb00"/>
<rect x="1326" y="511.4" width="21.4" height="21.9" fill="#74ca00"/>
<rect x="177.9" y="533" width="21.4" height="21.9" fill="#65c600"/>
<rect x="199" y="533" width="40.5" height="21.9" fill="#6ac800"/>
<rect x="239.3" y="533" width="40.5" height="21.9" fill="#6fc900"/>
<rect x="279.5" y="533" width="40.5" height="21.9" fill="#78cb00"/>
<rect x="319.8" y="533" width="40.5" height="21.9" fill="#82ce00"/>
<rect x="360" y="533" width="40.5" height="21.9" fill="#8dd100"/>
<rect x="400.3" y="533" width="40.5" height="21.9" fill="#9cd500"/>
<rect x="440.5" y="533" width="40.5" height="21.9" fill="#acd800"/>
<rect x="480.8" y="533" width="40.5" height="21.9" fill="#c3de00"/>
<rect x="521" y="533" width="40.5" height="21.9" fill="#e0e400"/>
<rect x="561.3" y="533" width="40.5" height="21.9" fill="#e7d612"/>
<rect x="601.5" y="533" width="40.5" height="21.9" fill="#e8c62a"/>
<rect x="641.8" y="533" width="40.5" height="21.9" fill="#e9bc3d"/>
<rect x="682" y="533" width="40.5" height="21.9" fill="#eab74b"/>
<rect x="722.3" y="533" width="40.5" height="21.9" fill="#eab454"/>
<rect x="762.5" y="533" width="40.5" height="21.9" fill="#eab359"/>
<rect x="802.7" y="533" width="40.5" height="21.9" fill="#eab454"/>
<rect x="843" y="533" width="40.5" height="21.9" fill="#eab74b"/>
<rect x="883.2" y="533" width="40.5" height="21.9" fill="#e9bc3d"/>
<rect x="923.5" y="533" width="40.5" height="21.9" fill="#e8c62a"/>
<rect x="963.7" y="533" width="40.5" height="21.9" fill="#e7d217"/>
<rect x="1004" y="533" width="40.5" height="21.9" fill="#e6e105"/>
<rect x="1044.2" y="533" width="40.5" height="21.9" fill="#d4e200"/>
<rect x="1084.5" y="533" width="40.5" height="21.9" fill="#c3de00"/>
<rect x="1124.7" y="533" width="40.5" height="21.9" fill="#b2da00"/>
<rect x="1165" y="533" width="40.5" height="21.9" fill="#a2d600"/>
<rect x="1205.2" y="533" width="40.5" height="21.9" fill="#92d200"/>
<rect x="1245.5" y="533" width="40.5" height="21.9" fill="#7dcd00"/>
<rect x="1285.7" y="533" width="40.5" height="21.9" fill="#78cb00"/>
<rect x="1326" y="533" width="21.4" height="21.9" fill="#74ca00"/>
<rect x="177.9" y="554.5" width="61.7" height="21.9" fill="#6fc900"/>
<rect x="239.3" y="554.5" width="40.5" height="21.9" fill="#78cb00"/>
<rect x="279.5" y="554.5" width="40.5" height="21.9" fill="#7dcd00"/>
<rect x="319.8" y="554.5" width="40.5" height="21.9" fill="#87cf00"/>
<rect x="360" y="554.5" width="40.5" height="21.9" fill="#92d200"/>
<rect x="400.3" y="554.5" width="40.5" height="21.9" fill="#a2d600"/>
<rect x="440.5" y="554.5" width="40.5" height="21.9" fill="#b7db00"/>
<rect x="480.8" y="554.5" width="40.5" height="21.9" fill="#cee000"/>
<rect x="521" y="554.5" width="40.5" height="21.9" fill="#e6e105"/>
<rect x="561.3" y="554.5" width="40.5" height="21.9" fill="#e7cf1c"/>
<rect x="601.5" y="554.5" width="40.5" height="21.9" fill="#e8c033"/>
<rect x="641.8" y="554.5" width="40.5" height="21.9" fill="#eab74b"/>
<rect x="682" y="554.5" width="40.5" height="21.9" fill="#ebb25e"/>
<rect x="722.3" y="554.5" width="40.5" height="21.9" fill="#ebb263"/>
<rect x="762.5" y="554.5" width="40.5" height="21.9" fill="#ebb167"/>
<rect x="802.7" y="554.5" width="40.5" height="21.9" fill="#ebb263"/>
<rect x="843" y="554.5" width="40.5" height="21.9" fill="#eab359"/>
<rect x="883.2" y="554.5" width="40.5" height="21.9" fill="#eab74b"/>
<rect x="923.5" y="554.5" width="40.5" height="21.9" fill="#e9be38"/>
<rect x="963.7" y="554.5" width="40.5" height="21.9" fill="#e7cb20"/>
<rect x="1004" y="554.5" width="40.5" height="21.9" fill="#e6d90e"/>
<rect x="1044.2" y="554.5" width="40.5" height="21.9" fill="#e0e400"/>
<rect x="1084.5" y="554.5" width="40.5" height="21.9" fill="#c8df00"/>
<rect x="1124.7" y="554.5" width="40.5" height="21.9" fill="#b7db00"/>
<rect x="1165" y="554.5" width="40.5" height="21.9" fill="#a7d700"/>
<rect x="1205.2" y="554.5" width="40.5" height="21.9" fill="#97d300"/>
<rect x="1245.5" y="554.5" width="40.5" height="21.9" fill="#87cf00"/>
<rect x="1285.7" y="554.5" width="40.5" height="21.9" fill="#7dcd00"/>
<rect x="1326" y="554.5" width="21.4" height="21.9" fill="#78cb00"/>
<rect x="177.9" y="576.1" width="21.4" height="21.9" fill="#74ca00"/>
<rect x="199" y="576.1" width="40.5" height="21.9" fill="#78cb00"/>
<rect x="239.3" y="576.1" width="40.5" height="21.9" fill="#7dcd00"/>
<rect x="279.5" y="576.1" width="40.5" height="21.9" fill="#82ce00"/>
<rect x="319.8" y="576.1" width="40.5" height="21.9" fill="#8dd100"/>
<rect x="360" y="576.1" width="40.5" height="21.9" fill="#9cd500"/>
<rect x="400.3" y="576.1" width="40.5" height="21.9" fill="#acd800"/>
<rect x="440.5" y="576.1" width="40.5" height="21.9" fill="#c3de00"/>
<rect x="480.8" y="576.1" width="40.5" height="21.9" fill="#dae300"/>
<rect x="521" y="576.1" width="40.5" height="21.9" fill="#e6d90e"/>
<rect x="561.3" y="576.1" width="40.5" height="21.9" fill="#e8c825"/>
<rect x="601.5" y="576.1" width="40.5" height="21.9" fill="#e9ba41"/>
<rect x="641.8" y="576.1" width="40.5" height="21.9" fill="#eab359"/>
<rect x="682" y="576.1" width="40.5" height="21.9" fill="#ebb16c"/>
<rect x="722.3" y="576.1" width="40.5" height="21.9" fill="#ecb176"/>
<rect x="762.5" y="576.1" width="40.5" height="21.9" fill="#ecb17b"/>
<rect x="802.7" y="576.1" width="40.5" height="21.9" fill="#ecb176"/>
<rect x="843" y="576.1" width="40.5" height="21.9" fill="#ebb167"/>
<rect x="883.2" y="576.1" width="40.5" height="21.9" fill="#eab359"/>
<rect x="923.5" y="576.1" width="40.5" height="21.9" fill="#e9b846"/>
<rect x="963.7" y="576.1" width="40.5" height="21.9" fill="#e8c32e"/>
<rect x="1004" y="576.1" width="40.5" height="21.9" fill="#e7cf1c"/>
<rect x="1044.2" y="576.1" width="40.5" height="21.9" fill="#e6e105"/>
<rect x="1084.5" y="576.1" width="40.5" height="21.9" fill="#d4e200"/>
<rect x="1124.7" y="576.1" width="40.5" height="21.9" fill="#c3de00"/>
<rect x="1165" y="576.1" width="40.5" height="21.9" fill="#b2da00"/>
<rect x="1205.2" y="576.1" width="40.5" height="21.9" fill="#a2d600"/>
<rect x="1245.5" y="576.1" width="40.5" height="21.9" fill="#92d200"/>
<rect x="1285.7" y="576.1" width="40.5" height="21.9" fill="#87cf00"/>
<rect x="1326" y="576.1" width="21.4" height="21.9" fill="#7dcd00"/>
<rect x="177.9" y="597.6" width="21.4" height="21.9" fill="#78cb00"/>
<rect x="199" y="597.6" width="40.5" height="21.9" fill="#7dcd00"/>
<rect x="239.3" y="597.6" width="40.5" height="21.9" fill="#82ce00"/>
<rect x="279.5" y="597.6" width="40.5" height="21.9" fill="#8dd100"/>
<rect x="319.8" y="597.6" width="40.5" height="21.9" fill="#97d300"/>
<rect x="360" y="597.6" width="40.5" height="21.9" fill="#a2d600"/>
<rect x="400.3" y="597.6" width="40.5" height="21.9" fill="#b2da00"/>
<rect x="440.5" y="597.6" width="40.5" height="21.9" fill="#c8df00"/>
<rect x="480.8" y="597.6" width="40.5" height="21.9" fill="#e6e600"/>
<rect x="521" y="597.6" width="40.5" height="21.9" fill="#e7d217"/>
<rect x="561.3" y="597.6" width="40.5" height="21.9" fill="#e8c033"/>
<rect x="601.5" y="597.6" width="40.5" height="21.9" fill="#eab74b"/>
<rect x="641.8" y="597.6" width="40.5" height="21.9" fill="#ebb167"/>
<rect x="682" y="597.6" width="40.5" height="21.9" fill="#ecb17b"/>
<rect x="722.3" y="597.6" width="40.5" height="21.9" fill="#edb285"/>
<rect x="762.5" y="597.6" width="40.5" height="21.9" fill="#edb389"/>
<rect x="802.7" y="597.6" width="40.5" height="21.9" fill="#edb285"/>
<rect x="843" y="597.6" width="40.5" height="21.9" fill="#ecb17b"/>
<rect x="883.2" y="597.6" width="40.5" height="21.9" fill="#ebb167"/>
<rect x="923.5" y="597.6" width="40.5" height="21.9" fill="#eab454"/>
<rect x="963.7" y="597.6" width="40.5" height="21.9" fill="#e9bc3d"/>
<rect x="1004" y="597.6" width="40.5" height="21.9" fill="#e8c62a"/>
<rect x="1044.2" y="597.6" width="40.5" height="21.9" fill="#e7d612"/>
<rect x="1084.5" y="597.6" width="40.5" height="21.9" fill="#e6e600"/>
<rect x="1124.7" y="597.6" width="40.5" height="21.9" fill="#d4e200"/>
<rect x="1165" y="597.6" width="40.5" height="21.9" fill="#c3de00"/>
<rect x="1205.2" y="597.6" width="40.5" height="21.9" fill="#b2da00"/>
<rect x="1245.5" y="597.6" width="40.5" height="21.9" fill="#a2d600"/>
<rect x="1285.7" y="597.6" width="40.5" height="21.9" fill="#92d200"/>
<rect x="1326" y="597.6" width="21.4" height="21.9" fill="#87cf00"/>
<rect x="177.9" y="619.2" width="21.4" height="21.9" fill="#7dcd00"/>
<rect x="199" y="619.2" width="40.5" height="21.9" fill="#82ce00"/>
<rect x="239.3" y="619.2" width="40.5" height="21.9" fill="#8dd100"/>
<rect x="279.5" y="619.2" width="40.5" height="21.9" fill="#97d300"/>
<rect x="319.8" y="619.2" width="40.5" height="21.9" fill="#a2d600"/>
<rect x="360" y="619.2" width="40.5" height="21.9" fill="#acd800"/>
<rect x="400.3" y="619.2" width="40.5" height="21.9" fill="#bddc00"/>
<rect x="440.5" y="619.2" width="40.5" height="21.9" fill="#d4e200"/>
<rect x="480.8" y="619.2" width="40.5" height="21.9" fill="#e6dd09"/>
<rect x="521" y="619.2" width="40.5" height="21.9" fill="#e8c825"/>
<rect x="561.3" y="619.2" width="40.5" height="21.9" fill="#e9bc3d"/>
<rect x="601.5" y="619.2" width="40.5" height="21.9" fill="#eab359"/>
<rect x="641.8" y="619.2" width="40.5" height="21.9" fill="#ecb171"/>
<rect x="682" y="619.2" width="40.5" height="21.9" fill="#edb285"/>
<rect x="722.3" y="619.2" width="40.5" height="21.9" fill="#edb593"/>
<rect x="762.5" y="619.2" width="40.5" height="21.9" fill="#eeb798"/>
<rect x="802.7" y="619.2" width="40.5" height="21.9" fill="#edb593"/>
<rect x="843" y="619.2" width="40.5" height="21.9" fill="#edb389"/>
<rect x="883.2" y="619.2" width="40.5" height="21.9" fill="#ecb17b"/>
<rect x="923.5" y="619.2" width="40.5" height="21.9" fill="#ebb167"/>
<rect x="963.7" y="619.2" width="40.5" height="21.9" fill="#eab550"/>
<rect x="1004" y="619.2" width="40.5" height="21.9" fill="#e9be38"/>
<rect x="1044.2" y="619.2" width="40.5" height="21.9" fill="#e8c825"/>
<rect x="1084.5" y="619.2" width="40.5" height="21.9" fill="#e6d90e"/>
<rect x="1124.7" y="619.2" width="40.5" height="21.9" fill="#e6e600"/>
<rect x="1165" y="619.2" width="40.5" height="21.9" fill="#d4e200"/>
<rect x="1205.2" y="619.2" width="40.5" height="21.9" fill="#c3de00"/>
<rect x="1245.5" y="619.2" width="40.5" height="21.9" fill="#b2da00"/>
<rect x="1285.7" y="619.2" width="40.5" height="21.9" fill="#a2d600"/>
<rect x="1326" y="619.2" width="21.4" height="21.9" fill="#92d200"/>
<rect x="177.9" y="640.7" width="21.4" height="21.9" fill="#87cf00"/>
<rect x="199" y="640.7" width="40.5" height="21.9" fill="#8dd100"/>
<rect x="239.3" y="640.7" width="40.5" height="21.9" fill="#92d200"/>
<rect x="279.5" y="640.7" width="40.5" height="21.9" fill="#9cd500"/>
<rect x="319.8" y="640.7" width="40.5" height="21.9" fill="#a7d700"/>
<rect x="360" y="640.7" width="40.5" height="21.9" fill="#b7db00"/>
<rect x="400.3" y="640.7" width="40.5" height="21.9" fill="#c8df00"/>
<rect x="440.5" y="640.7" width="40.5" height="21.9" fill="#e0e400"/>
<rect x="480.8" y="640.7" width="40.5" height="21.9" fill="#e7d612"/>
<rect x="521" y="640.7" width="40.5" height="21.9" fill="#e8c033"/>
<rect x="561.3" y="640.7" width="40.5" height="21.9" fill="#eab74b"/>
<rect x="601.5" y="640.7" width="40.5" height="21.9" fill="#ebb263"/>
<rect x="641.8" y="640.7" width="40.5" height="21.9" fill="#ecb280"/>
<rect x="682" y="640.7" width="40.5" height="21.9" fill="#edb593"/>
<rect x="722.3" y="640.7" width="40.5" height="21.9" fill="#eebaa2"/>
<rect x="762.5" y="640.7" width="80.8" height="21.9" fill="#eebca7"/>
<rect x="843" y="640.7" width="40.5" height="21.9" fill="#eeb798"/>
<rect x="883.2" y="640.7" width="40.5" height="21.9" fill="#edb389"/>
<rect x="923.5" y="640.7" width="40.5" height="21.9" fill="#ecb176"/>
<rect x="963.7" y="640.7" width="40.5" height="21.9" fill="#ebb25e"/>
<rect x="1004" y="640.7" width="40.5" height="21.9" fill="#eab74b"/>
<rect x="1044.2" y="640.7" width="40.5" height="21.9" fill="#e8c033"/>
<rect x="1084.5" y="640.7" width="40.5" height="21.9" fill="#e7cb20"/>
<rect x="1124.7" y="640.7" width="40.5" height="21.9" fill="#e7d612"/>
<rect x="1165" y="640.7" width="40.5" height="21.9" fill="#e6e600"/>
<rect x="1205.2" y="640.7" width="40.5" height="21.9" fill="#d4e200"/>
<rect x="1245.5" y="640.7" width="40.5" height="21.9" fill="#c3de00"/>
<rect x="1285.7" y="640.7" width="40.5" height="21.9" fill="#b2da00"/>
<rect x="1326" y="640.7" width="21.4" height="21.9" fill="#a2d600"/>
<rect x="177.9" y="662.3" width="21.4" height="21.9" fill="#8dd100"/>
<rect x="199" y="662.3" width="40.5" height="21.9" fill="#92d200"/>
<rect x="239.3" y="662.3" width="40.5" height="21.9" fill="#9cd500"/>
<rect x="279.5" y="662.3" width="40.5" height="21.9" fill="#a7d700"/>
<rect x="319.8" y="662.3" width="40.5" height="21.9" fill="#b2da00"/>
<rect x="360" y="662.3" width="40.5" height="21.9" fill="#c3de00"/>
<rect x="400.3" y="662.3" width="40.5" height="21.9" fill="#d4e200"/>
<rect x="440.5" y="662.3" width="40.5" height="21.9" fill="#e6e105"/>
<rect x="480.8" y="662.3" width="40.5" height="21.9" fill="#e7cb20"/>
<rect x="521" y="662.3" width="40.5" height="21.9" fill="#e9bc3d"/>
<rect x="561.3" y="662.3" width="40.5" height="21.9" fill="#eab454"/>
<rect x="601.5" y="662.3" width="40.5" height="21.9" fill="#ecb171"/>
<rect x="641.8" y="662.3" width="40.5" height="21.9" fill="#edb389"/>
<rect x="682" y="662.3" width="40.5" height="21.9" fill="#eebaa2"/>
<rect x="722.3" y="662.3" width="40.5" height="21.9" fill="#efc1b1"/>
<rect x="762.5" y="662.3" width="80.8" height="21.9" fill="#efc4b6"/>
<rect x="843" y="662.3" width="40.5" height="21.9" fill="#efbfac"/>
<rect x="883.2" y="662.3" width="40.5" height="21.9" fill="#eeb99d"/>
<rect x="923.5" y="662.3" width="40.5" height="21.9" fill="#edb389"/>
<rect x="963.7" y="662.3" width="40.5" height="21.9" fill="#ecb171"/>
<rect x="1004" y="662.3" width="40.5" height="21.9" fill="#eab359"/>
<rect x="1044.2" y="662.3" width="40.5" height="21.9" fill="#e9b846"/>
<rect x="1084.5" y="662.3" width="40.5" height="21.9" fill="#e8c033"/>
<rect x="1124.7" y="662.3" width="40.5" height="21.9" fill="#e8c825"/>
<rect x="1165" y="662.3" width="40.5" height="21.9" fill="#e7d612"/>
<rect x="1205.2" y="662.3" width="40.5" height="21.9" fill="#e6e105"/>
<rect x="1245.5" y="662.3" width="40.5" height="21.9" fill="#dae300"/>
<rect x="1285.7" y="662.3" width="40.5" height="21.9" fill="#c8df00"/>
<rect x="1326" y="662.3" width="21.4" height="21.9" fill="#b7db00"/>
<rect x="177.9" y="683.9" width="21.4" height="21.9" fill="#97d300"/>
<rect x="199" y="683.9" width="40.5" height="21.9" fill="#9cd500"/>
<rect x="239.3" y="683.9" width="40.5" height="21.9" fill="#a7d700"/>
<rect x="279.5" y="683.9" width="40.5" height="21.9" fill="#b2da00"/>
<rect x="319.8" y="683.9" width="40.5" height="21.9" fill="#bddc00"/>
<rect x="360" y="683.9" width="40.5" height="21.9" fill="#c8df00"/>
<rect x="400.3" y="683.9" width="40.5" height="21.9" fill="#e0e400"/>
<rect x="440.5" y="683.9" width="40.5" height="21.9" fill="#e6d90e"/>
<rect x="480.8" y="683.9" width="40.5" height="21.9" fill="#e8c62a"/>
<rect x="521" y="683.9" width="40.5" height="21.9" fill="#e9b846"/>
<rect x="561.3" y="683.9" width="40.5" height="21.9" fill="#ebb25e"/>
<rect x="601.5" y="683.9" width="40.5" height="21.9" fill="#ecb17b"/>
<rect x="641.8" y="683.9" width="40.5" height="21.9" fill="#eeb798"/>
<rect x="682" y="683.9" width="40.5" height="21.9" fill="#efbfac"/>
<rect x="722.3" y="683.9" width="40.5" height="21.9" fill="#efc6bb"/>
<rect x="762.5" y="683.9" width="80.8" height="21.9" fill="#f0cdc5"/>
<rect x="843" y="683.9" width="40.5" height="21.9" fill="#efc6bb"/>
<rect x="883.2" y="683.9" width="40.5" height="21.9" fill="#efc1b1"/>
<rect x="923.5" y="683.9" width="40.5" height="21.9" fill="#eeb99d"/>
<rect x="963.7" y="683.9" width="40.5" height="21.9" fill="#edb285"/>
<rect x="1004" y="683.9" width="40.5" height="21.9" fill="#ecb171"/>
<rect x="1044.2" y="683.9" width="40.5" height="21.9" fill="#eab359"/>
<rect x="1084.5" y="683.9" width="40.5" height="21.9" fill="#eab74b"/>
<rect x="1124.7" y="683.9" width="40.5" height="21.9" fill="#e9be38"/>
<rect x="1165" y="683.9" width="40.5" height="21.9" fill="#e8c825"/>
<rect x="1205.2" y="683.9" width="40.5" height="21.9" fill="#e7d217"/>
<rect x="1245.5" y="683.9" width="40.5" height="21.9" fill="#e6dd09"/>
<rect x="1285.7" y="683.9" width="40.5" height="21.9" fill="#e0e400"/>
<rect x="1326" y="683.9" width="21.4" height="21.9" fill="#cee000"/>
<rect x="177.9" y="705.4" width="21.4" height="21.9" fill="#9cd500"/>
<rect x="199" y="705.4" width="40.5" height="21.9" fill="#a7d700"/>
<rect x="239.3" y="705.4" width="40.5" height="21.9" fill="#acd800"/>
<rect x="279.5" y="705.4" width="40.5" height="21.9" fill="#b7db00"/>
<rect x="319.8" y="705.4" width="40.5" height="21.9" fill="#c3de00"/>
<rect x="360" y="705.4" width="40.5" height="21.9" fill="#d4e200"/>
<rect x="400.3" y="705.4" width="40.5" height="21.9" fill="#e6e105"/>
<rect x="440.5" y="705.4" width="40.5" height="21.9" fill="#e7d217"/>
<rect x="480.8" y="705.4" width="40.5" height="21.9" fill="#e8c033"/>
<rect x="521" y="705.4" width="40.5" height="21.9" fill="#eab74b"/>
<rect x="561.3" y="705.4" width="40.5" height="21.9" fill="#ebb167"/>
<rect x="601.5" y="705.4" width="40.5" height="21.9" fill="#edb285"/>
<rect x="641.8" y="705.4" width="40.5" height="21.9" fill="#eebaa2"/>
<rect x="682" y="705.4" width="40.5" height="21.9" fill="#efc6bb"/>
<rect x="722.3" y="705.4" width="40.5" height="21.9" fill="#f0d0ca"/>
<rect x="762.5" y="705.4" width="80.8" height="21.9" fill="#f1d7d4"/>
<rect x="843" y="705.4" width="40.5" height="21.9" fill="#f0d4cf"/>
<rect x="883.2" y="705.4" width="40.5" height="21.9" fill="#f0c9c0"/>
<rect x="923.5" y="705.4" width="40.5" height="21.9" fill="#efc1b1"/>
<rect x="963.7" y="705.4" width="40.5" height="21.9" fill="#eeb99d"/>
<rect x="1004" y="705.4" width="40.5" height="21.9" fill="#edb285"/>
<rect x="1044.2" y="705.4" width="40.5" height="21.9" fill="#ecb171"/>
<rect x="1084.5" y="705.4" width="40.5" height="21.9" fill="#ebb25e"/>
<rect x="1124.7" y="705.4" width="40.5" height="21.9" fill="#eab74b"/>
<rect x="1165" y="705.4" width="40.5" height="21.9" fill="#e9bc3d"/>
<rect x="1205.2" y="705.4" width="40.5" height="21.9" fill="#e8c62a"/>
<rect x="1245.5" y="705.4" width="40.5" height="21.9" fill="#e7cf1c"/>
<rect x="1285.7" y="705.4" width="40.5" height="21.9" fill="#e6d90e"/>
<rect x="1326" y="705.4" width="21.4" height="21.9" fill="#e0e400"/>
<rect x="177.9" y="727" width="21.4" height="21.9" fill="#a7d700"/>
<rect x="199" y="727" width="40.5" height="21.9" fill="#b2da00"/>
<rect x="239.3" y="727" width="40.5" height="21.9" fill="#b7db00"/>
<rect x="279.5" y="727" width="40.5" height="21.9" fill="#c3de00"/>
<rect x="319.8" y="727" width="40.5" height="21.9" fill="#cee000"/>
<rect x="360" y="727" width="40.5" height="21.9" fill="#e0e400"/>
<rect x="400.3" y="727" width="40.5" height="21.9" fill="#e6d90e"/>
<rect x="440.5" y="727" width="40.5" height="21.9" fill="#e7cb20"/>
<rect x="480.8" y="727" width="40.5" height="21.9" fill="#e9bc3d"/>
<rect x="521" y="727" width="40.5" height="21.9" fill="#eab454"/>
<rect x="561.3" y="727" width="40.5" height="21.9" fill="#ecb171"/>
<rect x="601.5" y="727" width="40.5" height="21.9" fill="#edb593"/>
<rect x="641.8" y="727" width="40.5" height="21.9" fill="#efbfac"/>
<rect x="682" y="727" width="40.5" height="21.9" fill="#f0cdc5"/>
<rect x="722.3" y="727" width="40.5" height="21.9" fill="#f1dbd9"/>
<rect x="762.5" y="727" width="121" height="21.9" fill="#f1dfde"/>
<rect x="883.2" y="727" width="40.5" height="21.9" fill="#f1d7d4"/>
<rect x="923.5" y="727" width="40.5" height="21.9" fill="#f0cdc5"/>
<rect x="963.7" y="727" width="40.5" height="21.9" fill="#efc1b1"/>
<rect x="1004" y="727" width="40.5" height="21.9" fill="#eeb99d"/>
<rect x="1044.2" y="727" width="40.5" height="21.9" fill="#edb389"/>
<rect x="1084.5" y="727" width="40.5" height="21.9" fill="#ecb176"/>
<rect x="1124.7" y="727" width="40.5" height="21.9" fill="#ebb263"/>
<rect x="1165" y="727" width="40.5" height="21.9" fill="#eab454"/>
<rect x="1205.2" y="727" width="40.5" height="21.9" fill="#e9ba41"/>
<rect x="1245.5" y="727" width="40.5" height="21.9" fill="#e8c033"/>
<rect x="1285.7" y="727" width="40.5" height="21.9" fill="#e7cb20"/>
<rect x="1326" y="727" width="21.4" height="21.9" fill="#e7d612"/>
<rect x="177.9" y="748.5" width="21.4" height="12.1" fill="#b7db00"/>
<rect x="199" y="748.5" width="40.5" height="12.1" fill="#bddc00"/>
<rect x="239.3" y="748.5" width="40.5" height="12.1" fill="#c3de00"/>
<rect x="279.5" y="748.5" width="40.5" height="12.1" fill="#cee000"/>
<rect x="319.8" y="748.5" width="40.5" height="12.1" fill="#dae300"/>
<rect x="360" y="748.5" width="40.5" height="12.1" fill="#e6e105"/>
<rect x="400.3" y="748.5" width="40.5" height="12.1" fill="#e7d217"/>
<rect x="440.5" y="748.5" width="40.5" height="12.1" fill="#e8c62a"/>
<rect x="480.8" y="748.5" width="40.5" height="12.1" fill="#e9b846"/>
<rect x="521" y="748.5" width="40.5" height="12.1" fill="#ebb25e"/>
<rect x="561.3" y="748.5" width="40.5" height="12.1" fill="#ecb280"/>
<rect x="601.5" y="748.5" width="40.5" height="12.1" fill="#eeb99d"/>
<rect x="641.8" y="748.5" width="40.5" height="12.1" fill="#efc6bb"/>
<rect x="682" y="748.5" width="40.5" height="12.1" fill="#f1d7d4"/>
<rect x="722.3" y="748.5" width="40.5" height="12.1" fill="#f1e4e3"/>
<rect x="762.5" y="748.5" width="121" height="12.1" fill="#f2eded"/>
<rect x="883.2" y="748.5" width="40.5" height="12.1" fill="#f1e4e3"/>
<rect x="923.5" y="748.5" width="40.5" height="12.1" fill="#f1dbd9"/>
<rect x="963.7" y="748.5" width="40.5" height="12.1" fill="#f0d0ca"/>
<rect x="1004" y="748.5" width="40.5" height="12.1" fill="#efc4b6"/>
<rect x="1044.2" y="748.5" width="40.5" height="12.1" fill="#eebaa2"/>
<rect x="1084.5" y="748.5" width="40.5" height="12.1" fill="#edb48e"/>
<rect x="1124.7" y="748.5" width="40.5" height="12.1" fill="#ecb17b"/>
<rect x="1165" y="748.5" width="40.5" height="12.1" fill="#ebb167"/>
<rect x="1205.2" y="748.5" width="40.5" height="12.1" fill="#eab359"/>
<rect x="1245.5" y="748.5" width="40.5" height="12.1" fill="#e9b846"/>
<rect x="1285.7" y="748.5" width="40.5" height="12.1" fill="#e8c033"/>
<rect x="1326" y="748.5" width="21.4" height="12.1" fill="#e8c62a"/>
</g>
<g clip-path="url(#pc)" fill="none">
<g stroke="#DF536B" stroke-width="2.15" stroke-linejoin="round">
<path d="M179 160.8C180.5 159.5 184.8 155.9 187.9 152.7C191 149.4 194.8 144.4 197.7 141.3C200.5 138.2 203.8 135.2 205 134"/>
<path d="M271.3 133.5C271 135.6 270.5 141.1 269.3 146.2C268.2 151.3 266.4 158.4 264.5 164.1C262.6 169.8 260.4 174.9 257.9 180.4C255.5 185.8 253.6 192.3 249.8 196.7C246 201 239.8 203.2 235.1 206.4C230.5 209.7 225.9 213.6 222.1 216.2C218.3 218.8 215.5 220.3 212.3 221.9C209.2 223.5 206.7 223.7 203 226C199.3 228.3 194.2 232.7 190 236C185.8 239.3 180 244.3 178 246"/>
<path d="M356.5 155.1C358 156.6 362.3 161 365.4 164.1C368.6 167.2 371.1 170.3 375.2 173.9C379.3 177.4 384.7 181.7 389.9 185.3C395 188.8 401.1 192 406.2 195C411.2 198 418 201.9 420 203.2C422 204.5 414.5 201 418.2 202.9C421.8 204.8 434.5 211.5 441.9 214.8C449.4 218.1 454.2 219.2 463.1 222.7C471.9 226.2 485.5 231.4 495 236C504.5 240.6 513.7 245.7 520 250C526.3 254.3 529.9 258.2 533 262C536.1 265.8 536.3 269.3 538.3 272.9C540.3 276.4 543.3 277.9 544.9 283.4C546.5 288.9 549.2 298.4 548.1 305.9C547 313.3 543.7 321 538.3 328.3C532.9 335.6 524.5 343.3 515.9 349.4C507.3 355.6 494.5 361.3 486.8 365.3C479.1 369.2 476.3 370.8 469.7 373.2C463.1 375.6 455.4 377.6 447.2 379.5C439.1 381.5 431.8 382.8 420.8 384.8C409.8 386.8 396.6 389.9 381.2 391.4C365.8 392.9 346.9 394 328.4 394C309.9 394 284.4 393.8 270.3 391.4C256.2 389 252.3 383.9 243.9 379.5C235.6 375.1 227.2 370 220.2 365C213.1 360 208.7 355.5 201.7 349.4C194.6 343.3 181.9 331.8 177.9 328.3"/>
<path d="M434 132.9C436.7 134.7 443.9 140.4 449.9 143.5C455.8 146.6 461.3 147.9 469.7 151.4C478 154.9 490.6 160.9 500 164.6C509.5 168.3 514.8 169.9 526.4 173.8C538.1 177.8 557.8 184.6 570 188.4C582.2 192.1 590.7 192.8 599.6 196.3C608.5 199.8 615.4 204.6 623.4 209.5C631.3 214.3 641 220.2 647.1 225.3C653.2 230.4 656.5 234.6 660 240C663.5 245.4 666.4 252.5 668 258C669.6 263.5 669.5 268.2 669.6 272.9C669.6 277.5 669.6 280.3 668.3 286.1C666.9 291.8 665.2 300.1 661.7 307.2C658.1 314.2 653.1 321.3 647.1 328.3C641.2 335.3 636.1 341.6 626 349.4C615.9 357.2 593.4 370.7 586.4 375C579.4 379.4 588.2 373.3 583.8 375.6C579.4 377.8 567.4 384.6 560 388.8C552.6 392.9 549.6 396 539.6 400.6C529.6 405.3 511.7 411.9 500 416.5C488.4 421.1 480.7 424.2 469.7 428.4C458.7 432.5 444.4 437.2 434 441.6C423.7 446 415.5 450.6 407.6 454.8C399.7 458.9 394 462.7 386.5 466.7C379 470.6 370.7 473.9 362.7 478.5C354.8 483.2 346.5 489.3 339 494.4C331.5 499.4 325.3 503.6 317.9 508.9C310.4 514.2 301.1 521.2 294.1 526.1C287.1 530.9 287.7 530.8 275.6 537.9C263.5 545.1 233.8 562.6 221.5 568.8C209.2 575.1 205 574.3 201.7 575.4"/>
<path d="M981.7 133.4C987.4 134 1003.7 136 1016 136.9C1028.3 137.8 1045 138.6 1055.6 138.7C1066.2 138.9 1075.4 137.8 1079.4 137.7"/>
<path d="M1104.5 136.1 L1124.3 133.4"/>
<path d="M1346 158.5C1339.4 160.4 1319.6 166 1306.4 169.9C1293.2 173.8 1280 178 1266.8 181.8C1253.6 185.5 1240.4 189.2 1227.2 192.3C1214 195.4 1200.8 197.6 1187.6 200.2C1174.4 202.9 1161.2 205.7 1148 208.2C1134.8 210.6 1121.6 212.8 1108.4 214.8C1095.2 216.7 1082 218.3 1068.8 220C1055.6 221.8 1047.3 222 1029.2 225.3C1011.1 228.7 983.2 234.6 960 240C936.8 245.4 910 252.5 890 258C870 263.5 853.1 267.3 839.9 272.9C826.7 278.4 820.1 285.2 810.8 291.3C801.6 297.5 793.2 303.7 784.4 309.8C775.6 316 767.3 321.7 758 328.3C748.8 334.9 741.3 341.6 729 349.4C716.7 357.2 693.8 370 684.1 375C674.4 380 678.4 376.1 670.9 379.5C663.4 382.9 651.1 389.4 639.2 395.4C627.3 401.3 612.8 408.6 599.6 415.2C586.4 421.8 570 430.1 560 435C550 439.8 547.4 440 539.6 444.2C531.8 448.4 522 454.3 513.2 460C504.4 465.8 494.1 472.8 486.8 478.5C479.6 484.3 476.3 488.2 469.7 494.4C463.1 500.5 454 508.9 447.2 515.5C440.4 522.1 436.2 525.2 428.7 534C421.3 542.8 410.3 559.5 402.3 568.3C394.4 577.1 388.3 580.8 381.2 586.8C374.2 592.7 367.1 598.1 360.1 603.9C353.1 609.8 346 616.3 339 621.7C331.9 627 324.9 631.6 317.9 636.2C310.8 640.8 303.8 645.2 296.7 649.4C289.7 653.6 282.7 657.4 275.6 661.3C268.6 665.1 258 670.7 254.5 672.6"/>
<path d="M218.8 692.1C215.1 693.8 203.2 698.8 196.4 702.2C189.6 705.5 181 710.5 177.9 712.2"/>
<path d="M1346 426 L1306.4 434.2"/>
<path d="M1268.2 444.2C1261.8 446.4 1241.5 451.7 1229.9 457.4C1218.2 463.1 1205.5 471.3 1198.2 478.5C1190.8 485.8 1187.8 493.9 1185.8 501C1183.8 508 1184.9 514.6 1186.3 520.8C1187.7 526.9 1189.2 530.2 1194.2 537.9C1199.3 545.6 1209 559 1216.7 567C1224.4 575 1232.1 580.2 1240.4 586C1248.8 591.8 1258 596.6 1266.8 601.8C1275.6 607.1 1284.4 612.8 1293.2 617.7C1302 622.5 1310.8 626.9 1319.6 630.9C1328.4 634.9 1341.6 639.9 1346 641.7"/>
<path d="M288.8 760.8C290.6 759.4 294.5 756 299.4 752.3C304.2 748.7 311.3 743.8 317.9 739.1C324.5 734.5 331.9 729.7 339 724.6C346 719.6 353.1 714.5 360.1 708.8C367.1 703.1 374.2 696.7 381.2 690.3C388.3 683.9 395.3 677.1 402.3 670.5C409.4 663.9 416 658.6 423.5 650.7C430.9 642.8 439.5 632.4 447.2 623C454.9 613.5 462.4 603.3 469.7 593.9C476.9 584.6 484 575.9 490.8 567C497.6 558.1 504.7 548.3 510.6 540.6C516.5 532.9 519.4 528.5 526.4 520.8C533.5 513.1 545.6 500.8 552.8 494.4C560.1 488 564.4 486.5 570 482.5C575.6 478.5 579.3 475.2 586.4 470.6C593.5 466 604 459.6 612.8 454.8C621.6 449.9 630.2 445.7 639.2 441.6C648.2 437.4 662.3 431.7 666.9 429.7"/>
<path d="M702.6 414.6C707.4 413.2 720.2 409.8 731.6 405.9C743.1 402.1 758 395.6 771.2 391.4C784.4 387.2 797.6 383.9 810.8 380.8C824 377.8 837.2 375.2 850.4 372.9C863.6 370.6 876.8 369 890 367.1C903.2 365.2 918 362.2 929.6 361.3C941.3 360.4 950.9 361.6 960 361.8C969.1 362.1 975 361.6 984.3 362.6C993.7 363.6 1009 366.6 1016 367.9C1023 369.2 1022.6 366.8 1026.6 370.3C1030.5 373.8 1037.1 383 1039.8 388.8C1042.4 394.5 1042.2 397.6 1042.4 404.6C1042.6 411.6 1040.6 422.2 1041.1 431C1041.5 439.8 1042.6 447.3 1045 457.4C1047.5 467.5 1051.7 481.6 1055.6 491.7C1059.6 501.9 1064.4 510.2 1068.8 518.1C1073.2 526.1 1075.9 531.1 1082 539.3C1088.2 547.4 1097 558.8 1105.8 567C1114.6 575.2 1125.6 582.4 1134.8 588.6C1144.1 594.9 1152.4 599.4 1161.2 604.5C1170 609.5 1178.8 614.4 1187.6 619C1196.4 623.6 1205.2 627.8 1214 632.2C1222.8 636.6 1231.6 641.2 1240.4 645.4C1249.2 649.6 1258 653.3 1266.8 657.3C1275.6 661.3 1284.4 665.2 1293.2 669.2C1302 673.1 1310.8 677.3 1319.6 681.1C1328.4 684.8 1341.6 690.1 1346 691.9"/>
<path d="M406.8 760.8C409.6 757.6 417.6 748.5 423.5 741.8C429.3 735.1 436.2 727.3 441.9 720.7C447.7 714.1 453.2 707.9 457.8 702.2C462.4 696.5 465.7 692.1 469.7 686.3C473.6 680.6 476.5 674.9 481.6 667.9C486.6 660.8 493.4 652.7 500 644.1C506.6 635.5 514.6 625.2 521.2 616.4C527.8 607.6 533.5 599.5 539.6 591.3C545.8 583.1 551.4 575.7 558.1 567C564.8 558.3 572.9 547.4 579.8 539.3C586.7 531.1 592.1 524.5 599.6 518.1C607.1 511.8 620.5 503.8 624.7 501"/>
<path d="M657.7 479.9C663.4 477.2 679.7 469.1 692 464C704.3 458.9 718.4 453 731.6 449.5C744.8 446 756.7 444.5 771.2 442.9C785.7 441.3 803.3 439.3 818.7 439.7C834.1 440.2 849.5 442.1 863.6 445.5C877.7 448.9 892.2 455 903.2 460C914.2 465.1 920.2 468.9 929.6 475.9C939.1 482.9 954.4 497.5 960 502.3C965.6 507.1 960 501.9 963.2 504.9C966.4 508 973.3 515.1 979 520.8C984.8 526.5 990.5 531.6 997.5 539.3C1004.6 547 1013.8 559.2 1021.3 567C1028.8 574.8 1034.5 579.3 1042.4 586C1050.3 592.7 1060 600.7 1068.8 607.1C1077.6 613.5 1086.4 619 1095.2 624.3C1104 629.6 1112.8 634.2 1121.6 638.8C1130.4 643.4 1139.2 647.8 1148 652C1156.8 656.2 1165.6 659.9 1174.4 663.9C1183.2 667.9 1192 672 1200.8 675.8C1209.6 679.5 1218.4 682.6 1227.2 686.3C1236 690.1 1244.8 694.5 1253.6 698.2C1262.4 702 1271.2 705 1280 708.8C1288.8 712.5 1297.6 716.9 1306.4 720.7C1315.2 724.4 1326.2 728.5 1332.8 731.2C1339.4 733.9 1343.8 735.8 1346 736.8"/>
<path d="M479.4 760.8C482.4 755.4 491.8 738.3 497.4 728.6C503 718.8 507.1 712.1 513.2 702.2C519.4 692.3 527.8 678.3 534.4 669.2C541 660.1 546.8 654.3 552.8 647.5C558.8 640.7 565 634.5 570.6 628.2C576.2 621.9 580.7 616.4 586.4 609.8C592.1 603.2 598.7 595.7 604.9 588.6C611 581.6 615.4 575.8 623.4 567.5C631.3 559.3 644 546.2 652.4 539.3C660.8 532.3 665.6 530.5 673.5 526.1C681.5 521.7 688.5 517.5 699.9 512.9C711.4 508.2 735.1 500.8 742.2 498.3"/>
<path d="M781.8 493.1C788.8 494.2 810.4 496.4 824 499.7C837.7 503 851.3 508 863.6 512.9C876 517.7 889.6 524.5 898 528.7C906.3 532.9 905.1 531 913.8 537.9C922.5 544.8 939.6 561.3 950 570.2C960.4 579.1 967.6 584.2 976.4 591.3C985.2 598.3 994 605.8 1002.8 612.4C1011.6 619 1020.4 625 1029.2 630.9C1038 636.8 1046.8 642.8 1055.6 648.1C1064.4 653.3 1073.2 658 1082 662.6C1090.8 667.2 1099.6 671.6 1108.4 675.8C1117.2 680 1126 683.7 1134.8 687.7C1143.6 691.6 1152.4 695.6 1161.2 699.5C1170 703.5 1178.8 707.7 1187.6 711.4C1196.4 715.2 1205.2 718.5 1214 722C1222.8 725.5 1231.6 729 1240.4 732.5C1249.2 736.1 1258 739.6 1266.8 743.1C1275.6 746.6 1286.6 750.7 1293.2 753.7C1299.8 756.6 1304.2 759.6 1306.4 760.8"/>
<path d="M536.2 760.8C540.2 755.9 552.5 741.4 560 731.2C567.5 721 574.5 709.7 581.1 699.5C587.7 689.4 593.4 679.7 599.6 670.5C605.8 661.3 611.5 652.9 618.1 644.1C624.7 635.3 631.3 626.5 639.2 617.7C647.1 608.9 655 599.7 665.6 591.3C676.2 582.8 690.2 572.9 702.6 567C715 561.1 727.1 558.7 740 556C752.9 553.3 766.7 551 780 551C793.3 551 807.8 553.3 820 556C832.2 558.7 841.4 562 853.1 567C864.7 572 877.3 578.9 890 586C902.8 593.1 918 602.3 929.6 609.8C941.3 617.2 952.2 625.2 960 630.9C967.8 636.6 969.3 638.8 976.4 644.1C983.5 649.4 994 656.9 1002.8 662.6C1011.6 668.3 1020.4 673.4 1029.2 678.4C1038 683.5 1046.8 688.3 1055.6 692.9C1064.4 697.6 1073.2 702 1082 706.1C1090.8 710.3 1099.6 714.3 1108.4 718C1117.2 721.8 1126 725.1 1134.8 728.6C1143.6 732.1 1152.4 735.6 1161.2 739.1C1170 742.7 1178.6 746.1 1187.6 749.7C1196.6 753.3 1210.7 758.9 1215.3 760.8"/>
<path d="M589.3 760.8C591.5 757.6 597 749.4 602.2 741.8C607.5 734.2 613.7 725.1 620.7 715.4C627.8 705.7 637 692.9 644.5 683.7C652 674.5 658.6 667.2 665.6 659.9C672.7 652.7 679.9 645.9 686.7 640.1C693.6 634.3 703.2 627.6 706.5 625.1"/>
<path d="M737.3 611.5C745 610.1 768.9 603.3 783.2 602.9C797.5 602.6 810 606 823.3 609.4C836.7 612.7 850.7 617.4 863.5 623C876.2 628.6 885.6 634.9 900 643.1C914.4 651.2 937.3 664.2 950 671.8C962.7 679.5 967.6 683.5 976.4 689C985.2 694.5 994 699.8 1002.8 704.8C1011.6 709.9 1020.4 714.9 1029.2 719.3C1038 723.7 1046.8 727.3 1055.6 731.2C1064.4 735.2 1073.2 739.4 1082 743.1C1090.8 746.8 1101.2 750.7 1108.4 753.7C1115.7 756.6 1122.7 759.6 1125.6 760.8"/>
<path d="M644.2 760.8C647.8 756.7 658.5 744.5 665.6 736.5C672.7 728.5 680.1 719.6 686.7 712.7C693.3 705.9 702.1 698.4 705.2 695.6"/>
<path d="M737.3 673.2C745 671.2 768.9 662.8 783.2 661.4C797.5 660 811.9 662.4 823.3 664.6C834.8 666.8 839.2 670.1 852 674.6C864.8 679.1 883.7 685 900 691.8C916.3 698.6 937.3 709.2 950 715.4C962.7 721.6 967.6 724.6 976.4 729.1C985.2 733.6 994.9 738.2 1002.8 742.3C1010.7 746.4 1018 750.6 1023.9 753.7C1029.9 756.7 1036 759.6 1038.4 760.8"/>
<path d="M709.2 760.8C712 758.5 720.8 751.1 726.3 747.1C731.8 743 739.5 738.3 742.2 736.5"/>
<path d="M779.1 722.8C786.6 722.3 809.9 719.2 824 720.1C838.1 721.1 850.4 725 863.6 728.6C876.8 732.2 891.4 737.4 903.2 741.8C915.1 746.2 927.2 751.8 934.9 755C942.6 758.2 947 759.8 949.4 760.8"/>
<path d="M1346 281.6 L1330.2 288.7 L1303.8 306.7 L1313 313"/>
</g>
<g stroke="#00FF00" stroke-width="2.6" stroke-linecap="round" stroke-dasharray="2.1 6.9">
<path d="M179 137.7 L192 134"/>
<path d="M179 160C180.7 159.6 186.2 158.5 189.5 157.6C192.9 156.6 196.3 155.3 199.3 154.3C202.3 153.4 204.5 152.8 207.5 151.9C210.4 150.9 214.2 149.6 217.2 148.6C220.2 147.7 222.4 147.1 225.4 146.2C228.4 145.2 232.2 144 235.1 142.9C238.1 141.8 239.9 141.1 243.3 139.7C246.7 138.2 253.5 135.3 255.5 134.4"/>
<path d="M179 185.6C181 184.9 186.4 182.7 191.2 181.2C195.9 179.6 201.8 177.8 207.5 176.3C213.2 174.8 219.4 173.7 225.4 172.2C231.3 170.8 238.4 169 243.3 167.7C248.2 166.3 249.5 165.5 254.7 164.1C259.8 162.7 268.3 160.7 274.2 159.2C280.2 157.7 284.8 156.8 290.5 155.1C296.2 153.5 302.7 151.3 308.4 149.4C314.1 147.5 319.6 145.4 324.7 143.7C329.9 142.1 334.5 140.8 339.4 139.7C344.3 138.5 349.7 137.7 354 136.7C358.4 135.8 363.5 134.4 365.4 134"/>
<path d="M179 211.6C181.8 210.8 190 207.8 196.1 206.4C202.2 205 209.1 204.3 215.6 203.2C222.1 202.1 228.9 201.3 235.1 199.9C241.4 198.6 247.1 196.4 253.1 195C259 193.7 264.7 193.1 271 191.8C277.2 190.4 284.3 188.4 290.5 186.9C296.8 185.4 302.5 184 308.4 182.8C314.4 181.6 320.4 180.8 326.4 179.6C332.3 178.3 338.3 177 344.3 175.5C350.2 174 356.2 171.8 362.2 170.6C368.2 169.4 374.1 169.4 380.1 168.2C386.1 166.9 391.4 164.9 398 163.3C404.7 161.6 414 160.4 420 158.4C426 156.4 425.7 153.9 434 151.4C442.3 148.9 458.2 146.5 469.7 143.5C481.1 140.5 497.2 135.1 502.7 133.4"/>
<path d="M310.1 222.7C313.9 222.2 325.5 220.4 332.9 219.5C340.2 218.5 347.3 218 354 217C360.8 216.1 366.3 215 373.6 213.8C380.9 212.5 390.3 211 398 209.7C405.7 208.3 414 207.4 420 205.6C426 203.8 425.7 201.4 434 198.9C442.3 196.5 458.7 193.9 469.7 191C480.7 188.1 488.4 184.8 500 181.8C511.7 178.7 528 175.2 539.6 172.5C551.3 169.9 560 167.9 570 165.9C580 163.9 588.1 162.1 599.6 160.6C611.1 159.2 623.8 157.7 639.2 157.2C654.6 156.8 674.4 157.4 692 158C709.6 158.6 727.2 160.1 744.8 160.6C762.4 161.2 780 161.4 797.6 161.4C815.2 161.4 832.8 160.6 850.4 160.6C868 160.6 885 160.6 903.2 161.4C921.5 162.3 943.4 164.4 960 165.9C976.6 167.4 986.9 169.1 1002.8 170.4C1018.7 171.7 1038 172.9 1055.6 173.8C1073.2 174.8 1090.8 175.4 1108.4 176C1126 176.5 1143.6 176.7 1161.2 177C1178.8 177.3 1196.4 177.2 1214 177.8C1231.6 178.4 1251.4 179.5 1266.8 180.4C1282.2 181.4 1293.2 182.2 1306.4 183.6C1319.6 185 1339.4 187.8 1346 188.6"/>
<path d="M985 146C994.2 146.2 1023 146.6 1040 147C1057 147.4 1071.2 147.7 1087 148.2C1102.8 148.7 1118.2 149.5 1135 150C1151.8 150.5 1170.5 150.6 1188 151C1205.5 151.4 1222.5 151.5 1240 152.2C1257.5 152.9 1275.2 153.9 1293 155.4C1310.8 156.9 1338 160.1 1347 161"/>
<path d="M1317 136.9 L1346 136.9"/>
<path d="M581.1 221.4C588.6 219.6 611.9 213.2 626 210.8C640.1 208.4 650.2 208.2 665.6 206.8C681 205.5 700.8 203.8 718.4 202.9C736 202 753.6 202.3 771.2 201.6C788.8 200.8 806.4 199.3 824 198.4C841.6 197.5 859.2 196.4 876.8 196.3C894.4 196.2 915.8 197 929.6 197.6C943.5 198.2 947.8 198.6 960 199.7C972.2 200.8 986.9 202.9 1002.8 204.2C1018.7 205.5 1038 206.6 1055.6 207.4C1073.2 208.2 1090.8 208.7 1108.4 209C1126 209.2 1143.6 209 1161.2 209C1178.8 209 1196.4 208.7 1214 209C1231.6 209.3 1249.2 209.8 1266.8 210.8C1284.4 211.8 1306.4 213.7 1319.6 214.8C1332.8 215.8 1341.6 216.7 1346 217.1"/>
<path d="M177.9 307.2C185.4 306.7 206.5 304.8 222.8 304.5C239.1 304.2 258 305 275.6 305.3C293.2 305.7 310.8 306.9 328.4 306.7C346 306.4 368 305.5 381.2 304C394.4 302.6 398.8 300.5 407.6 297.9C416.4 295.4 425.2 292.2 434 288.7C442.8 285.2 456 278.8 460.4 276.8"/>
<path d="M702.6 275.5C699.5 276.6 690.3 279.7 684.1 282.1C677.9 284.5 673.1 285.8 665.6 290C658.1 294.2 648 301.2 639.2 307.2C630.4 313.1 621.6 319.9 612.8 325.7C604 331.4 595.2 335.8 586.4 341.5C577.6 347.2 570 354.3 560 360C550 365.7 536.4 370.3 526.4 375.6C516.4 380.8 509.5 385.7 500 391.4C490.6 397.1 477.2 404.6 469.7 409.9C462.2 415.2 461.1 417.8 455.1 423.1C449.2 428.4 441.9 436.3 434 441.6C426.1 446.8 416.4 450.1 407.6 454.8C398.8 459.4 390 464.9 381.2 469.3C372.4 473.7 363.6 477.4 354.8 481.2C346 484.9 336.3 488.2 328.4 491.7C320.5 495.3 313 498.8 307.3 502.3C301.6 505.8 297.6 508.9 294.1 512.9C290.6 516.8 287.5 521.7 286.2 526.1C284.9 530.5 285.3 531.3 286.2 539.3C287.1 547.2 291.5 564.8 291.5 573.6C291.5 582.4 287.3 586.3 286.2 592.1C285.1 597.8 285.1 605.4 284.9 607.9C284.6 610.4 283.8 604.2 284.9 607.1C286 610.1 287.7 619.9 291.5 625.6C295.2 631.3 301.1 636.6 307.3 641.5C313.5 646.3 320.5 650.3 328.4 654.7C336.3 659.1 346 663.9 354.8 667.9C363.6 671.8 372.4 674.5 381.2 678.4C390 682.4 398.8 687.2 407.6 691.6C416.4 696 425.2 700.6 434 704.8C442.8 709 451.6 712.7 460.4 716.7C469.2 720.7 478 724.2 486.8 728.6C495.6 733 504.2 737.7 513.2 743.1C522.3 748.5 536.3 757.8 541 760.8"/>
<path d="M624.7 760.8C621.4 758.9 612.1 753.8 604.9 749.7C597.6 745.7 588.6 741.3 581.1 736.5C573.6 731.7 565.6 724.6 560 720.7C554.4 716.7 553.2 716.9 547.6 712.7C542 708.6 533 701.3 526.4 695.6C519.8 689.9 514.1 684.6 508 678.4C501.8 672.3 494.3 665.2 489.5 658.6C484.6 652 481.3 645.6 478.9 638.8C476.5 632 475.2 625.2 475 617.7C474.7 610.2 476.1 601.4 477.6 593.9C479.1 586.4 481.6 582.8 484.2 572.8C486.8 562.8 491.2 543.1 493.4 534C495.6 524.9 494.1 523.9 497.4 518.1C500.7 512.4 506.2 505.8 513.2 499.7C520.3 493.5 530.2 487.1 539.6 481.2C549.1 475.2 562.2 468.9 570 464C577.8 459.2 579.3 456.7 586.4 452.1C593.5 447.5 604 442 612.8 436.3C621.6 430.6 631.3 423.1 639.2 417.8C647.1 412.5 653.7 409 660.3 404.6C666.9 400.2 670.9 395.8 678.8 391.4C686.7 387 696.9 382.2 707.9 378.2C718.9 374.2 734.3 370.7 744.8 367.6C755.4 364.6 760.2 363.5 771.2 360C782.2 356.5 797.6 350.7 810.8 346.8C824 342.8 837.2 339.1 850.4 336.2C863.6 333.4 876.8 331.2 890 329.6C903.2 328.1 918 327.4 929.6 327C941.3 326.5 950 326.5 960 327C970 327.4 978.1 328.3 989.6 329.6C1001.1 330.9 1016 332.9 1029.2 334.9C1042.4 336.9 1055.6 339.3 1068.8 341.5C1082 343.7 1095.2 345.9 1108.4 348.1C1121.6 350.3 1137 352.5 1148 354.7C1159 356.9 1166.9 359.1 1174.4 361.3C1181.9 363.5 1188.9 365.7 1192.9 367.9C1196.9 370.1 1197.7 374.1 1198.2 374.5C1198.6 374.9 1197.3 369.2 1195.5 370.3C1193.8 371.3 1192 376.9 1187.6 380.8C1183.2 384.8 1177.9 390.3 1169.1 394C1160.3 397.8 1146.7 399.8 1134.8 403.3C1122.9 406.8 1108.4 411.4 1097.9 415.2C1087.3 418.9 1078.5 422.2 1071.5 425.7C1064.4 429.2 1058.9 431.9 1055.6 436.3C1052.3 440.7 1050.8 446.8 1051.7 452.1C1052.5 457.4 1057.2 462.9 1060.9 468C1064.6 473 1069.7 477.7 1074.1 482.5C1078.5 487.3 1084.2 492 1087.3 497C1090.4 502.1 1091.5 506.7 1092.6 512.9C1093.7 519 1092.6 525 1093.9 534C1095.2 543 1097.2 557.9 1100.5 567C1103.8 576.1 1108.9 581.5 1113.7 588.6C1118.5 595.8 1125.1 603.6 1129.5 609.8C1133.9 615.9 1137.7 619.9 1140.1 625.6C1142.5 631.3 1144.1 637.9 1144.1 644.1C1144.1 650.3 1142.5 656.4 1140.1 662.6C1137.7 668.7 1133.9 675.3 1129.5 681.1C1125.1 686.8 1119.9 691.6 1113.7 696.9C1107.5 702.2 1100.1 707.5 1092.6 712.7C1085.1 718 1076.3 723.7 1068.8 728.6C1061.3 733.4 1054.3 737.6 1047.7 741.8C1041.1 746 1034.3 750.5 1029.2 753.7C1024.1 756.8 1019.3 759.6 1017.3 760.8"/>
<path d="M960 722C957.1 724 950.1 730.1 942.8 733.9C935.6 737.6 927.4 741.3 916.4 744.4C905.4 747.5 890 750.5 876.8 752.3C863.6 754.2 850.4 755.4 837.2 755.8C824 756.1 810.8 755.5 797.6 754.5C784.4 753.4 769 751.2 758 749.7C747 748.3 740.4 747.5 731.6 745.7C722.8 744 714 742 705.2 739.1C696.4 736.3 687.6 732.3 678.8 728.6C670 724.8 660.8 721.1 652.4 716.7C644 712.3 636.1 707.7 628.6 702.2C621.2 696.7 614.1 690.3 607.5 683.7C600.9 677.1 593.4 670.1 589 662.6C584.6 655.1 582.2 646.7 581.1 638.8C580 630.9 580.7 623.4 582.4 615C584.2 606.7 588.4 596.6 591.7 588.6C595 580.7 597.4 576.6 602.2 567.5C607.1 558.4 616.3 541.8 620.7 534C625.1 526.2 624.2 525.6 628.6 520.8C633 515.9 639.6 509.8 647.1 504.9C654.6 500.1 663.9 495.5 673.5 491.7C683.2 488 693.3 485.1 705.2 482.5C717.1 479.9 731.6 477.3 744.8 475.9C758 474.4 771.2 474 784.4 473.8C797.6 473.6 810.8 473.6 824 474.6C837.2 475.6 851.3 477.4 863.6 479.9C876 482.3 887.8 485.4 898 489.1C908.1 492.8 917.3 497.5 924.4 502.3C931.4 507.1 936.2 512.9 940.2 518.1C944.2 523.4 943.8 525.8 948.1 534C952.4 542.1 961.1 558.3 965.8 567C970.6 575.7 971.6 578.9 976.4 586C981.2 593.1 989.6 601.8 994.9 609.8C1000.2 617.7 1005.2 626.1 1008.1 633.5C1010.9 641 1012.5 647.6 1012 654.7C1011.6 661.7 1008.7 669.2 1005.4 675.8C1002.1 682.4 997.1 688.8 992.2 694.3C987.4 699.8 983.4 703.5 976.4 708.8C969.4 714.1 952.7 723.7 950 725.9C947.3 728.1 958.3 722.6 960 722"/>
<path d="M783.2 602.9C777.9 603.9 759.8 606.3 751.7 608.7C743.5 611.1 739 613.7 734.5 617.3C729.9 620.8 726.7 625.6 724.4 630.2C722.2 634.7 720.6 640 720.8 644.5C721.1 649 722.6 653.1 725.9 657.4C729.1 661.7 734.5 666.8 740.2 670.3C745.9 673.8 753.1 676.2 760.3 678.2C767.4 680.1 775.1 681.3 783.2 682C791.3 682.8 801.1 682.8 809 682.5C816.9 682.2 823.8 681.9 830.5 680.3C837.2 678.8 843.9 676 849.1 673.2C854.4 670.3 858.8 667.2 862 663.1C865.3 659.1 868 653.3 868.5 648.8C869 644.3 867.2 640 864.9 635.9C862.6 631.8 859.4 627.8 854.9 624.4C850.3 621.1 842.9 618.3 837.7 615.8C832.4 613.3 832.4 611.5 823.3 609.4C814.3 607.2 789.9 604 783.2 602.9"/>
<path d="M1346 454.8C1344.7 457 1340.1 462.2 1338.1 468C1336.1 473.7 1335.9 482.5 1334.2 489.1C1332.4 495.7 1330.4 501.9 1327.6 507.6C1324.7 513.3 1321 518.6 1317 523.4C1313 528.3 1308 528.8 1303.8 536.6C1299.6 544.4 1293.2 561.5 1291.9 570.2C1290.6 578.8 1293.9 582.5 1295.9 588.6C1297.9 594.8 1301.6 601 1303.8 607.1C1306 613.3 1308.4 619.9 1309.1 625.6C1309.7 631.3 1309.5 635.7 1307.8 641.5C1306 647.2 1302.7 654.2 1298.5 659.9C1294.3 665.7 1288.8 670.5 1282.7 675.8C1276.5 681.1 1268.6 686.8 1261.6 691.6C1254.5 696.5 1248.3 700 1240.4 704.8C1232.5 709.7 1222.8 715.6 1214 720.7C1205.2 725.7 1196.4 730.8 1187.6 735.2C1178.8 739.6 1170.5 742.8 1161.2 747.1C1152 751.3 1137 758.5 1132.2 760.8"/>
<path d="M1346 712.2C1341.6 714.7 1328.4 722.6 1319.6 727.3C1310.8 732 1302 736.1 1293.2 740.5C1284.4 744.9 1273.4 750.3 1266.8 753.7C1260.2 757.1 1255.8 759.6 1253.6 760.8"/>
<path d="M177.9 679.2C181.9 680.4 193.3 683.8 201.7 686.3C210 688.8 218 691.2 228.1 694.3C238.2 697.3 251 701.5 262.4 704.8C273.9 708.1 284.9 711 296.7 714.1C308.6 717.1 321.8 720.4 333.7 723.3C345.6 726.2 357.9 728.6 368 731.2C378.1 733.9 385.6 736.3 394.4 739.1C403.2 742 412.5 745.5 420.8 748.4C429.2 751.2 438.6 754.2 444.6 756.3C450.5 758.4 454.5 760 456.5 760.8"/>
<path d="M177.9 722.8C183.2 724.6 197.7 730.3 209.6 733.9C221.5 737.5 237.3 741.3 249.2 744.4C261.1 747.5 270.8 749.6 280.9 752.3C291 755.1 305.1 759.4 309.9 760.8"/>
</g>
<g stroke="#FF0000" stroke-width="2.6" stroke-linecap="round" stroke-dasharray="2.1 6.9">
<path d="M308.4 134C311.2 134.4 319.3 135.9 324.7 136.7C330.2 137.5 334.2 138.1 341 138.8C347.8 139.6 357.3 140.5 365.4 141.3C373.6 142.1 380.8 142.9 389.9 143.7C399 144.5 412.6 145.6 420 146.2C427.4 146.8 425.7 147 434 147.4C442.3 147.9 456.5 148.8 469.7 148.8C482.9 148.8 496.5 148.1 513.2 147.4C530 146.8 553.4 145.4 570 144.8C586.6 144.2 596.9 144.1 612.8 144C628.7 143.9 648 143.7 665.6 144C683.2 144.4 698.6 145.9 718.4 146.1C738.2 146.4 766.8 146.4 784.4 145.6C802 144.8 810.8 142.7 824 141.4C837.2 140 850.4 138.6 863.6 137.7C876.8 136.7 887.2 135.8 903.2 135.6C919.3 135.3 945.6 135.3 960 136.1C974.4 136.9 978.1 138.6 989.6 140.3C1001.1 142 1013.8 144.1 1029.2 146.1C1044.6 148.2 1064.4 150.7 1082 152.7C1099.6 154.7 1117.2 155.8 1134.8 158C1152.4 160.2 1170 163.1 1187.6 165.9C1205.2 168.8 1222.8 171.6 1240.4 175.2C1258 178.7 1275.6 183.1 1293.2 187C1310.8 191 1337.2 196.9 1346 198.9"/>
<path d="M1239.1 133.4C1245.9 135.3 1266.6 140.9 1280 144.8C1293.5 148.7 1308.6 153.5 1319.6 156.7C1330.6 159.9 1341.6 162.6 1346 163.8"/>
<path d="M179 161.2C182.9 161 193.2 160.2 202.6 160C211.9 159.8 225.6 159.8 235.1 160C244.6 160.2 251.4 160.7 259.6 161.2C267.7 161.6 275.9 161.8 284 162.5C292.1 163.1 300.3 164.1 308.4 164.9C316.6 165.7 324.7 166.3 332.9 167C341 167.8 349.2 168.6 357.3 169.3C365.4 170 373.6 170.8 381.7 171.4C389.9 172 399.8 172.7 406.2 173C412.5 173.4 409.4 173.2 420 173.5C430.6 173.9 451.9 174.9 469.7 175.2C487.4 175.4 509.7 175.4 526.4 175.2C543.2 174.9 555.6 173.9 570 173.8C584.4 173.8 596.9 174.2 612.8 174.6C628.7 175.1 648 175.5 665.6 176.5C683.2 177.5 700.8 179.6 718.4 180.4C736 181.3 753.6 181.7 771.2 181.8C788.8 181.9 806.4 181.3 824 181C841.6 180.6 859.2 179.8 876.8 179.7C894.4 179.5 915.8 179.6 929.6 179.9C943.5 180.3 950 180.9 960 181.8C970 182.6 978.1 183.7 989.6 185.2C1001.1 186.7 1016 189.1 1029.2 191C1042.4 192.9 1055.6 194.8 1068.8 196.8C1082 198.8 1095.2 201 1108.4 202.9C1121.6 204.8 1134.8 206.4 1148 208.2C1161.2 209.9 1174.4 211.7 1187.6 213.4C1200.8 215.2 1214 216.5 1227.2 218.7C1240.4 220.9 1255.8 224.4 1266.8 226.7C1277.8 228.9 1288.8 231.1 1293.2 231.9"/>
<path d="M179 199.9C182.9 199.6 193.2 198.8 202.6 198.3C211.9 197.8 224.3 197.2 235.1 197C246 196.8 256.9 196.8 267.7 197C278.6 197.2 289.4 197.7 300.3 198.3C311.2 198.8 322 199.6 332.9 200.2C343.7 200.8 354.6 201.3 365.4 201.9C376.3 202.4 388.9 203.1 398 203.5C407.1 203.9 408.1 203.9 420 204.5C431.9 205 451.9 206.4 469.7 206.8C487.4 207.3 509.7 207.2 526.4 207.4C543.2 207.6 557.8 207.9 570 208.2C582.2 208.4 588.1 208.3 599.6 209C611.1 209.6 626 210.9 639.2 212.1C652.4 213.3 665.6 214.4 678.8 216.1C692 217.8 705.2 220.4 718.4 222.2C731.6 223.9 744.8 224.8 758 226.7C771.2 228.5 791 232.2 797.6 233.3"/>
<path d="M625 262C627.8 264.2 635.1 270.8 641.8 275.5C648.6 280.2 659.9 285.2 665.6 290C671.3 294.9 674 299 676.2 304.5C678.4 310 679.3 316.4 678.8 323C678.4 329.6 676.2 337.8 673.5 344.1C670.9 350.5 666.5 356.5 663 361.3C659.4 366.1 656.4 370.4 652.4 373.2C648.4 376 645.8 375.2 639.2 378.2C632.6 381.2 621.6 387 612.8 391.4C604 395.8 595.2 401.1 586.4 404.6C577.6 408.1 565.6 410.8 560 412.5C554.4 414.3 560.6 413.2 552.8 415.2C545 417.1 527.1 421.1 513.2 424.4C499.4 427.7 480.7 432.3 469.7 435C458.7 437.6 455.4 437.8 447.2 440.2C439.1 442.7 429.6 446.4 420.8 449.5C412 452.6 400.1 455.6 394.4 458.7C388.7 461.8 389.1 463.8 386.5 468C383.9 472.2 381.2 478.5 378.6 483.8C375.9 489.1 376.4 494.6 370.7 499.7C364.9 504.7 353.1 510.2 344.3 514.2C335.5 518.1 327.1 520.8 317.9 523.4C308.6 526.1 298.9 528.3 288.8 530C278.7 531.8 269 533.1 257.1 534C245.2 534.9 230.7 535.5 217.5 535.3C204.3 535.1 184.5 533.1 177.9 532.7"/>
<path d="M1015 262C1018.7 264.2 1028.2 270.6 1037.1 275.5C1046.1 280.4 1059.1 285.6 1068.8 291.3C1078.5 297.1 1086.4 304.3 1095.2 309.8C1104 315.3 1110.6 320.2 1121.6 324.3C1132.6 328.5 1145.8 331.6 1161.2 334.9C1176.6 338.2 1196.4 341.1 1214 344.1C1231.6 347.2 1249.2 350.1 1266.8 353.4C1284.4 356.7 1306.4 361.3 1319.6 363.9C1332.8 366.6 1341.6 368.6 1346 369.5"/>
<path d="M177.9 645.4C185.4 645.6 206.5 646.7 222.8 646.7C239.1 646.7 261.5 646.3 275.6 645.4C289.7 644.5 296.3 643.2 307.3 641.5C318.3 639.7 329.3 637.7 341.6 634.9C353.9 632 368 628.5 381.2 624.3C394.4 620.1 409.8 614.2 420.8 609.8C431.8 605.4 439.1 602.1 447.2 597.9C455.4 593.7 463.1 588.9 469.7 584.7C476.3 580.5 475.2 580.6 486.8 572.8C498.5 565 528.6 545.3 539.6 537.9C550.6 530.6 547.8 531.8 552.8 528.7C557.9 525.6 565.3 522.5 570 519.5C574.7 516.4 576.2 514.8 581.1 510.2C586.1 505.6 593.4 497.9 599.6 491.7C605.8 485.6 611.5 479.2 618.1 473.3C624.7 467.3 631.3 460.9 639.2 456.1C647.1 451.2 656.8 447.7 665.6 444.2C674.4 440.7 681 438.5 692 435C703 431.4 718.4 426.4 731.6 423.1C744.8 419.8 758 416.9 771.2 415.2C784.4 413.4 797.6 412.9 810.8 412.5C824 412.2 837.2 412.5 850.4 413.1C863.6 413.6 876.8 414.5 890 415.7C903.2 416.9 918 418.7 929.6 420.4C941.3 422.2 952.2 424.8 960 426.3C967.8 427.7 969.3 427.3 976.4 428.9C983.5 430.5 995.3 432.3 1002.8 435.8C1010.3 439.2 1017.5 445.4 1021.3 449.5C1025 453.5 1026.1 455.6 1025.2 460C1024.4 464.4 1018.1 470.2 1016 475.9C1013.9 481.6 1012 488.7 1012.8 494.4C1013.7 500.1 1017.2 505.2 1021.3 510.2C1025.3 515.3 1030.5 520.3 1037.1 524.7C1043.7 529.1 1047.2 529.6 1060.9 536.6C1074.5 543.7 1104 559.6 1119 567C1133.9 574.3 1139.2 576 1150.7 580.7C1162.1 585.4 1174.9 590.8 1187.6 595.2C1200.4 599.6 1214 603.6 1227.2 607.1C1240.4 610.6 1253.6 613.7 1266.8 616.4C1280 619 1293.2 621.3 1306.4 623C1319.6 624.6 1339.4 625.6 1346 626.1"/>
<path d="M177.9 690.3C185.4 690.7 206.5 692.5 222.8 692.9C239.1 693.4 258 693.6 275.6 692.9C293.2 692.3 310.8 690.7 328.4 689C346 687.2 365.8 684.6 381.2 682.4C396.6 680.2 407.6 678.4 420.8 675.8C434 673.1 449.4 669.4 460.4 666.5C471.4 663.7 475.8 662.4 486.8 658.6C497.8 654.9 515.4 648.7 526.4 644.1C537.4 639.5 545.6 634.9 552.8 630.9C560.1 626.9 564.4 623.6 570 620.3C575.6 617 579.3 615.5 586.4 611.1C593.5 606.7 604.9 599.2 612.8 593.9C620.7 588.6 628.2 583.8 633.9 579.4C639.6 575 636.6 574.2 647.1 567.5C657.7 560.8 685.4 545.5 697.3 539.3C709.2 533 710.5 532.4 718.4 530C726.3 527.6 734.7 526.1 744.8 524.7C754.9 523.4 768.1 522.1 779.1 522.1C790.1 522.1 801.1 523.2 810.8 524.7C820.5 526.3 828.9 529.1 837.2 531.3C845.6 533.5 846.5 532 861 537.9C875.5 543.9 907.9 559.4 924.4 567C940.9 574.6 951.3 579.5 960 583.4C968.7 587.2 969.3 586.7 976.4 590C983.5 593.3 994 599 1002.8 603.2C1011.6 607.3 1020.4 611.3 1029.2 615C1038 618.8 1046.8 622.3 1055.6 625.6C1064.4 628.9 1073.2 632.1 1082 634.9C1090.8 637.6 1099.6 639.9 1108.4 642C1117.2 644 1126 645.6 1134.8 647.3C1143.6 648.9 1152.4 650.6 1161.2 652C1170 653.5 1178.8 654.7 1187.6 656C1196.4 657.3 1205.2 658.6 1214 659.9C1222.8 661.3 1231.6 662.8 1240.4 663.9C1249.2 665 1258 665.7 1266.8 666.5C1275.6 667.4 1284.4 668.4 1293.2 669.2C1302 669.9 1310.8 670.6 1319.6 671C1328.4 671.5 1341.6 671.7 1346 671.8"/>
<path d="M177.9 722C185.4 722.4 206.5 724 222.8 724.6C239.1 725.2 258 725.6 275.6 725.4C293.2 725.2 310.8 724.3 328.4 723.3C346 722.3 365.8 720.9 381.2 719.3C396.6 717.8 407.6 716 420.8 714.1C434 712.1 447.2 709.9 460.4 707.5C473.6 705 486.8 702.6 500 699.5C513.2 696.5 528 692.1 539.6 689C551.3 685.9 560 684.6 570 681.1C580 677.5 588.1 672.7 599.6 667.9C611.1 663 626 657.7 639.2 652C652.4 646.3 667.4 638.6 678.8 633.5C690.3 628.5 702.9 623.9 707.9 621.7C712.8 619.4 703.8 621.9 708.7 620.1C713.6 618.3 724.9 613.7 737.3 610.8C749.8 607.9 768.9 603.3 783.2 602.9C797.5 602.6 810.7 605.9 823.3 608.7C836 611.4 846.4 615.4 859.2 619.4C871.9 623.5 883.2 627.8 900 633C916.8 638.2 947.3 646.6 960 650.7C972.7 654.7 969.3 655.1 976.4 657.3C983.5 659.5 994 661.9 1002.8 663.9C1011.6 665.9 1020.4 667.4 1029.2 669.2C1038 670.9 1046.8 672.9 1055.6 674.5C1064.4 676 1073.2 677.1 1082 678.4C1090.8 679.7 1099.6 681.1 1108.4 682.4C1117.2 683.6 1126 684.7 1134.8 685.8C1143.6 686.9 1152.4 688 1161.2 689C1170 689.9 1178.8 690.7 1187.6 691.6C1196.4 692.5 1205.2 693.5 1214 694.3C1222.8 695 1231.6 695.7 1240.4 696.4C1249.2 697 1258 697.7 1266.8 698.2C1275.6 698.7 1284.4 699.1 1293.2 699.5C1302 699.9 1310.8 700.3 1319.6 700.6C1328.4 700.9 1341.6 701 1346 701.1"/>
<path d="M177.9 749.7C185.4 750.1 206.5 751.6 222.8 752.3C239.1 753.1 258 754.2 275.6 754.5C293.2 754.7 310.8 754.2 328.4 753.7C346 753.1 365.8 752.2 381.2 751C396.6 749.8 407.6 748.2 420.8 746.5C434 744.9 447.2 743.1 460.4 741.3C473.6 739.4 486.8 737.5 500 735.2C513.2 732.8 528 729.7 539.6 727.3C551.3 724.8 560 723.5 570 720.7C580 717.8 588.1 714.1 599.6 710.1C611.1 706.1 626 701.3 639.2 696.9C652.4 692.5 665.6 687.7 678.8 683.7C692 679.7 705.2 675.8 718.4 673.1C731.6 670.5 747 669 758 667.9C769 666.8 773.4 666.3 784.4 666.5C795.4 666.8 810.8 667.6 824 669.2C837.2 670.7 850.4 673.6 863.6 675.8C876.8 678 887.2 679.7 903.2 682.4C919.3 685 947.8 689.6 960 691.6C972.2 693.6 969.3 693.2 976.4 694.3C983.5 695.4 994 696.9 1002.8 698.2C1011.6 699.5 1020.4 701.1 1029.2 702.2C1038 703.3 1046.8 703.9 1055.6 704.8C1064.4 705.8 1073.2 707 1082 708C1090.8 709 1099.6 709.7 1108.4 710.6C1117.2 711.5 1126 712.5 1134.8 713.3C1143.6 714.1 1152.4 714.7 1161.2 715.4C1170 716.1 1178.8 716.8 1187.6 717.5C1196.4 718.2 1205.2 719 1214 719.6C1222.8 720.2 1231.6 720.7 1240.4 721.2C1249.2 721.7 1258 722.1 1266.8 722.5C1275.6 722.9 1284.4 723.5 1293.2 723.8C1302 724.2 1310.8 724.4 1319.6 724.6C1328.4 724.8 1341.6 725.1 1346 725.1"/>
<path d="M510.6 760.8C515.4 759.8 529.7 756.6 539.6 755C549.5 753.4 560 753 570 751C580 749 588.1 746.4 599.6 743.1C611.1 739.8 626 735 639.2 731.2C652.4 727.5 665.6 724 678.8 720.7C692 717.4 705.2 713.6 718.4 711.4C731.6 709.2 747 708.3 758 707.5C769 706.6 773.4 706.1 784.4 706.1C795.4 706.2 810.8 707.1 824 708C837.2 708.9 850.4 710.2 863.6 711.4C876.8 712.7 887.2 713.6 903.2 715.4C919.3 717.1 947.8 720.4 960 722C972.2 723.5 969.3 723.7 976.4 724.6C983.5 725.5 994 726.4 1002.8 727.3C1011.6 728.1 1020.4 729.1 1029.2 729.9C1038 730.7 1046.8 731.3 1055.6 732C1064.4 732.8 1073.2 733.6 1082 734.4C1090.8 735.1 1099.6 735.8 1108.4 736.5C1117.2 737.2 1126 737.9 1134.8 738.6C1143.6 739.3 1152.4 740.1 1161.2 740.7C1170 741.4 1178.8 742 1187.6 742.6C1196.4 743.2 1205.2 743.9 1214 744.4C1222.8 745 1231.6 745.3 1240.4 745.7C1249.2 746.2 1258 746.7 1266.8 747.1C1275.6 747.4 1284.4 747.6 1293.2 747.9C1302 748.1 1310.8 748.3 1319.6 748.4C1328.4 748.5 1341.6 748.6 1346 748.6"/>
<path d="M664.3 760.8C668.9 758.9 682.1 752.9 692 749.7C701.9 746.5 712.7 743.6 723.7 741.8C734.7 739.9 745.7 739.3 758 738.6C770.3 738 784.4 737.7 797.6 737.8C810.8 737.9 824 738.5 837.2 739.1C850.4 739.8 863.6 740.7 876.8 741.8C890 742.9 902.6 744.2 916.4 745.7C930.3 747.3 950 750.3 960 751C970 751.8 969.3 750 976.4 750.2C983.5 750.5 994 751.6 1002.8 752.3C1011.6 753 1020.4 753.8 1029.2 754.5C1038 755.1 1046.8 755.8 1055.6 756.3C1064.4 756.8 1072.8 757 1082 757.6C1091.3 758.3 1106.2 759.8 1111.1 760.3"/>
</g>
<g font-size="22.5" text-anchor="middle" style="fill:#DF536B">
<text style="fill:#DF536B" transform="translate(196.5 225.5) rotate(-28)" y="8">-5</text>
<text style="fill:#DF536B" transform="translate(349.2 145.4) rotate(50)" y="8">0</text>
<text style="fill:#DF536B" transform="translate(1092 139.5) rotate(0)" y="8">5</text>
<text style="fill:#DF536B" transform="translate(191.7 580.2) rotate(-20)" y="8">5</text>
<text style="fill:#DF536B" transform="translate(237.9 681.8) rotate(-28)" y="8">10</text>
<text style="fill:#DF536B" transform="translate(1288 439.7) rotate(-15)" y="8">10</text>
<text style="fill:#DF536B" transform="translate(1328.9 323) rotate(32)" y="8">15</text>
<text style="fill:#DF536B" transform="translate(685.4 422.6) rotate(-20)" y="8">15</text>
<text style="fill:#DF536B" transform="translate(640.5 491.2) rotate(-33)" y="8">20</text>
<text style="fill:#DF536B" transform="translate(761.2 495.7) rotate(-3)" y="8">25</text>
<text style="fill:#DF536B" transform="translate(721.6 620.8) rotate(-25)" y="8">35</text>
<text style="fill:#DF536B" transform="translate(721.6 685.3) rotate(-33)" y="8">40</text>
<text style="fill:#DF536B" transform="translate(761.2 731.2) rotate(-12)" y="8">45</text>
</g>
<rect x="178.9" y="206.5" width="1167.1999999999998" height="84.5" fill="url(#b1)"/>
<rect x="178.9" y="374.5" width="1167.1999999999998" height="37.0" fill="url(#b2)"/>
<rect x="178.9" y="521.0" width="1167.1999999999998" height="62.0" fill="url(#b3)"/>
</g>
<line x1="469.6" y1="759.3" x2="469.6" y2="134.2" stroke="#000" stroke-width="2.15" stroke-dasharray="10.6 7.7"/>
<g stroke="#000" stroke-width="2.1" fill="none" stroke-linecap="butt">
<path d="M179.4 759.3 V782.8"/>
<path d="M469.6 759.3 V782.8"/>
<path d="M759.9 759.3 V782.8"/>
<path d="M1050.1 759.3 V782.8"/>
<path d="M1340.4 759.3 V782.8"/>
<path d="M155.9 141.3 H178.9"/>
<path d="M155.9 248 H178.9"/>
<path d="M155.9 354.7 H178.9"/>
<path d="M155.9 461.3 H178.9"/>
<path d="M155.9 568 H178.9"/>
<path d="M155.9 674.7 H178.9"/>
</g>
<g font-size="38" text-anchor="middle">
<text transform="translate(179.4 842.1) scale(1.008 1)">0</text>
<text transform="translate(469.6 842.1) scale(1.008 1)">1000</text>
<text transform="translate(759.9 842.1) scale(1.008 1)">2000</text>
<text transform="translate(1050.1 842.1) scale(1.008 1)">3000</text>
<text transform="translate(1340.4 842.1) scale(1.008 1)">4000</text>
<text transform="translate(125.2 141.3) rotate(-90)">1.5</text>
<text transform="translate(125.2 248) rotate(-90)">1.0</text>
<text transform="translate(125.2 354.7) rotate(-90)">0.5</text>
<text transform="translate(125.2 461.3) rotate(-90)">0.0</text>
<text transform="translate(125.2 568) rotate(-90)">-0.5</text>
<text transform="translate(125.2 674.7) rotate(-90)">-1.0</text>
<text transform="translate(762.4 933.1) scale(1.032 1)">Time (ms)</text>
<text transform="translate(34.2 447.0) rotate(-90) scale(0.995 1)">Non-University Entropy</text>
</g>
<text transform="translate(762.3 34.9) scale(1.026 1)" font-size="39.2" font-weight="bold" text-anchor="middle">Time * Non-University Entropy effect on difference switch &amp; non-switch trials</text>
<text transform="translate(469.7 125.2) scale(1.008 1)" font-size="28.9" text-anchor="middle">Stimulus Onset</text>
<text transform="translate(1383 759.3) rotate(-90)" font-size="29.05" style="fill:#4d4d4d">difference, excl. random</text>
<rect x="1345.85" y="134.3" width="58.55000000000018" height="156.3" fill="url(#lg)"/>
<g stroke="#000" stroke-width="2.2" fill="none">
<rect x="1345.85" y="134.3" width="58.55000000000018" height="156.3"/>
<path d="M1345.85 173.4 H1404.4"/>
<path d="M1345.85 212.5 H1404.4"/>
<path d="M1345.85 251.5 H1404.4"/>
</g>
<g font-size="30.5">
<text x="1426.5" y="144">48.509</text>
<text x="1426.5" y="183.1">33.381</text>
<text x="1426.5" y="222.2">18.253</text>
<text x="1426.5" y="261.2">3.124</text>
<text x="1426.5" y="300.3">-12.004</text>
</g>
</svg></body></html>
